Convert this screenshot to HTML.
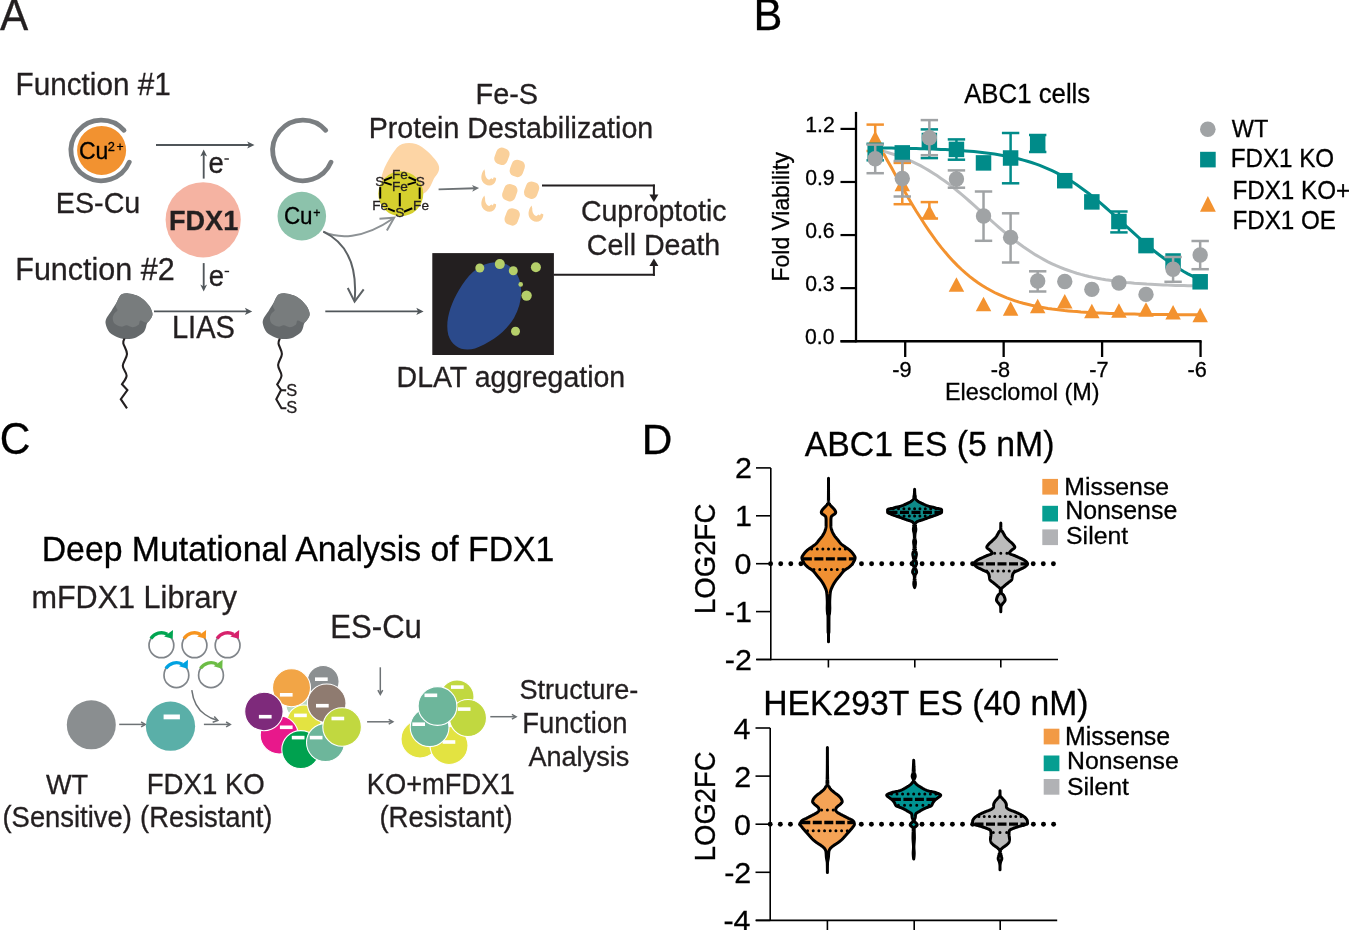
<!DOCTYPE html>
<html><head><meta charset="utf-8"><title>Figure</title>
<style>html,body{margin:0;padding:0;background:#fff;}svg{display:block;will-change:transform;}text{font-family:"Liberation Sans",sans-serif;}</style>
</head><body>
<svg width="1349" height="930" viewBox="0 0 1349 930">
<rect width="1349" height="930" fill="#fff"/>
<text transform="translate(-0.11,29.60) scale(1,1.05)" font-size="42.30" fill="#231f20" stroke="#231f20" stroke-width="0.3">A</text>
<text transform="translate(15.55,95.00) scale(1,1.05)" font-size="29.70" fill="#231f20" stroke="#231f20" stroke-width="0.3">Function #1</text>
<text transform="translate(15.28,280.00) scale(1,1.05)" font-size="30.50" fill="#231f20" stroke="#231f20" stroke-width="0.3">Function #2</text>
<path d="M124.03,130.29 A30.35,30.35 0 1 0 129.28,162.16" fill="none" stroke="#7a7e81" stroke-width="4.8" stroke-linecap="round"/>
<circle cx="101.60" cy="150.40" r="24.50" fill="#f29230" />
<text transform="translate(78.95,158.60) scale(1,1.05)" font-size="23.00" fill="#000" stroke="#000" stroke-width="0.3">Cu</text>
<text transform="translate(107.76,150.70) scale(1,1.05)" font-size="12.80" fill="#000" stroke="#000" stroke-width="0.3">2</text>
<text transform="translate(116.39,150.60) scale(1,1.05)" font-size="12.20" fill="#000" stroke="#000" stroke-width="0.3">+</text>
<text transform="translate(55.83,213.00) scale(1,1.05)" font-size="28.70" fill="#231f20" stroke="#231f20" stroke-width="0.3">ES-Cu</text>
<line x1="156.00" y1="145.00" x2="250.12" y2="145.00" stroke="#50565a" stroke-width="1.85" />
<path d="M254.50,145.00 L247.20,141.40 L249.00,145.00 L247.20,148.60 Z" fill="#50565a"/>
<path d="M325.73,130.29 A30.35,30.35 0 1 0 330.98,162.16" fill="none" stroke="#7a7e81" stroke-width="4.8" stroke-linecap="round"/>
<line x1="203.70" y1="178.60" x2="203.70" y2="153.70" stroke="#50565a" stroke-width="1.85" />
<path d="M203.70,149.50 L200.30,156.50 L203.70,154.70 L207.10,156.50 Z" fill="#50565a"/>
<text transform="translate(208.43,173.00) scale(1,1.05)" font-size="27.50" fill="#231f20" stroke="#231f20" stroke-width="0.3">e</text>
<rect x="224.4" y="158.3" width="4.5" height="1.4" fill="#231f20"/>
<circle cx="203.20" cy="219.80" r="37.60" fill="#f5b3a2" />
<text transform="translate(168.97,230.00) scale(1,1.05)" font-size="27.10" font-weight="bold" fill="#231f20" stroke="#231f20" stroke-width="0.3">FDX1</text>
<circle cx="301.80" cy="216.10" r="24.30" fill="#8cc2ab" />
<text transform="translate(283.88,223.80) scale(1,1.05)" font-size="22.40" fill="#000" stroke="#000" stroke-width="0.3">Cu</text>
<text transform="translate(313.28,216.50) scale(1,1.05)" font-size="12.40" fill="#000" stroke="#000" stroke-width="0.3">+</text>
<line x1="203.70" y1="263.10" x2="203.70" y2="287.40" stroke="#50565a" stroke-width="1.85" />
<path d="M203.70,291.60 L207.10,284.60 L203.70,286.40 L200.30,284.60 Z" fill="#50565a"/>
<text transform="translate(208.63,285.60) scale(1,1.05)" font-size="27.50" fill="#231f20" stroke="#231f20" stroke-width="0.3">e</text>
<rect x="224.6" y="270.8" width="4.5" height="1.4" fill="#231f20"/>
<path d="M122.30,294.00 C123.80,293.40 126.00,293.20 128.30,293.40 C130.60,293.60 133.58,294.20 136.10,295.20 C138.62,296.20 141.18,297.58 143.40,299.40 C145.62,301.22 147.90,303.78 149.40,306.10 C150.90,308.42 152.10,311.30 152.40,313.30 C152.70,315.30 152.10,316.40 151.20,318.10 C150.30,319.80 147.90,321.88 147.00,323.50 C146.10,325.12 146.40,326.28 145.80,327.80 C145.20,329.32 145.02,331.00 143.40,332.60 C141.78,334.20 138.82,336.35 136.10,337.40 C133.38,338.45 130.10,338.90 127.10,338.90 C124.10,338.90 121.02,338.45 118.10,337.40 C115.18,336.35 111.67,334.82 109.60,332.60 C107.53,330.38 106.20,326.52 105.70,324.10 C105.20,321.68 105.65,320.30 106.60,318.10 C107.55,315.90 109.78,313.40 111.40,310.90 C113.02,308.40 114.98,305.42 116.30,303.10 C117.62,300.78 118.30,298.52 119.30,297.00 C120.30,295.48 120.80,294.60 122.30,294.00 Z" fill="#65696b"/>
<path d="M115.70,305.50 C116.00,303.28 118.20,298.92 119.30,297.00 C120.40,295.08 120.80,294.60 122.30,294.00 C123.80,293.40 126.00,293.20 128.30,293.40 C130.60,293.60 133.58,294.20 136.10,295.20 C138.62,296.20 141.18,297.58 143.40,299.40 C145.62,301.22 147.90,303.78 149.40,306.10 C150.90,308.42 152.10,311.30 152.40,313.30 C152.70,315.30 152.10,316.52 151.20,318.10 C150.30,319.68 148.80,322.40 147.00,322.80 C145.20,323.20 141.80,320.18 140.40,320.50 C139.00,320.82 139.92,323.58 138.60,324.70 C137.28,325.82 134.52,327.10 132.50,327.20 C130.48,327.30 128.40,325.40 126.50,325.30 C124.60,325.20 123.10,326.90 121.10,326.60 C119.10,326.30 115.90,324.92 114.50,323.50 C113.10,322.08 112.70,319.80 112.70,318.10 C112.70,316.40 113.70,314.60 114.50,313.30 C115.30,312.00 117.30,311.60 117.50,310.30 C117.70,309.00 115.40,307.72 115.70,305.50 Z" fill="#787c7d"/>
<path d="M279.50,294.00 C281.00,293.40 283.20,293.20 285.50,293.40 C287.80,293.60 290.78,294.20 293.30,295.20 C295.82,296.20 298.38,297.58 300.60,299.40 C302.82,301.22 305.10,303.78 306.60,306.10 C308.10,308.42 309.30,311.30 309.60,313.30 C309.90,315.30 309.30,316.40 308.40,318.10 C307.50,319.80 305.10,321.88 304.20,323.50 C303.30,325.12 303.60,326.28 303.00,327.80 C302.40,329.32 302.22,331.00 300.60,332.60 C298.98,334.20 296.02,336.35 293.30,337.40 C290.58,338.45 287.30,338.90 284.30,338.90 C281.30,338.90 278.22,338.45 275.30,337.40 C272.38,336.35 268.87,334.82 266.80,332.60 C264.73,330.38 263.40,326.52 262.90,324.10 C262.40,321.68 262.85,320.30 263.80,318.10 C264.75,315.90 266.98,313.40 268.60,310.90 C270.22,308.40 272.18,305.42 273.50,303.10 C274.82,300.78 275.50,298.52 276.50,297.00 C277.50,295.48 278.00,294.60 279.50,294.00 Z" fill="#65696b"/>
<path d="M272.90,305.50 C273.20,303.28 275.40,298.92 276.50,297.00 C277.60,295.08 278.00,294.60 279.50,294.00 C281.00,293.40 283.20,293.20 285.50,293.40 C287.80,293.60 290.78,294.20 293.30,295.20 C295.82,296.20 298.38,297.58 300.60,299.40 C302.82,301.22 305.10,303.78 306.60,306.10 C308.10,308.42 309.30,311.30 309.60,313.30 C309.90,315.30 309.30,316.52 308.40,318.10 C307.50,319.68 306.00,322.40 304.20,322.80 C302.40,323.20 299.00,320.18 297.60,320.50 C296.20,320.82 297.12,323.58 295.80,324.70 C294.48,325.82 291.72,327.10 289.70,327.20 C287.68,327.30 285.60,325.40 283.70,325.30 C281.80,325.20 280.30,326.90 278.30,326.60 C276.30,326.30 273.10,324.92 271.70,323.50 C270.30,322.08 269.90,319.80 269.90,318.10 C269.90,316.40 270.90,314.60 271.70,313.30 C272.50,312.00 274.50,311.60 274.70,310.30 C274.90,309.00 272.60,307.72 272.90,305.50 Z" fill="#787c7d"/>
<path d="M124.50,338.60 C124.30,339.38 122.88,340.73 123.30,343.30 C123.72,345.87 127.08,350.27 127.00,354.00 C126.92,357.73 122.87,362.10 122.80,365.70 C122.73,369.30 126.73,372.50 126.60,375.60 C126.47,378.70 122.77,382.85 122.00,384.30 L127.4,390.1 L120.8,399.2 L127,408.3" fill="none" stroke="#231f20" stroke-width="2.1" stroke-linejoin="miter"/>
<path d="M279.80,338.60 C279.58,339.43 278.15,341.03 278.50,343.60 C278.85,346.17 281.97,350.42 281.90,354.00 C281.83,357.58 278.17,361.52 278.10,365.10 C278.03,368.68 281.65,372.27 281.50,375.50 C281.35,378.73 277.92,383.00 277.20,384.50 L281.1,390.1 L286.2,390.4 M281.1,390.1 L276.3,399.2 L281.5,408.2 L286.4,408.2" fill="none" stroke="#231f20" stroke-width="2.1" stroke-linejoin="miter"/>
<text transform="translate(286.36,396.20) scale(1,1.05)" font-size="16.40" fill="#231f20" stroke="#231f20" stroke-width="0.3">S</text>
<text transform="translate(286.36,412.70) scale(1,1.05)" font-size="16.40" fill="#231f20" stroke="#231f20" stroke-width="0.3">S</text>
<line x1="154.00" y1="311.40" x2="247.82" y2="311.40" stroke="#50565a" stroke-width="1.85" />
<path d="M252.20,311.40 L244.90,307.80 L246.70,311.40 L244.90,315.00 Z" fill="#50565a"/>
<text transform="translate(171.90,337.60) scale(1,1.05)" font-size="29.10" fill="#231f20" stroke="#231f20" stroke-width="0.3">LIAS</text>
<line x1="325.30" y1="311.40" x2="419.22" y2="311.40" stroke="#50565a" stroke-width="1.85" />
<path d="M423.60,311.40 L416.30,307.80 L418.10,311.40 L416.30,315.00 Z" fill="#50565a"/>
<path d="M323.3,231.7 C338,238.5 362,240 393.5,218.2" fill="none" stroke="#8d9295" stroke-width="2"/>
<path d="M379.47,218.65 L394.20,217.70 L386.88,230.53" fill="none" stroke="#8d9295" stroke-width="2" stroke-linejoin="miter"/>
<path d="M323.3,231.7 C345,242 358,262 354.6,301" fill="none" stroke="#5d6265" stroke-width="2"/>
<path d="M363.70,289.45 L354.60,301.70 L347.76,288.05" fill="none" stroke="#5d6265" stroke-width="2" stroke-linejoin="miter"/>
<text transform="translate(475.52,103.80) scale(1,1.05)" font-size="28.90" fill="#231f20" stroke="#231f20" stroke-width="0.3">Fe-S</text>
<text transform="translate(368.74,138.20) scale(1,1.05)" font-size="28.60" fill="#231f20" stroke="#231f20" stroke-width="0.3">Protein Destabilization</text>
<path d="M397,147.5 C401,143 409,142 416,144 C424,147 432,155 437,162 C441,168 439,172 435,177 C432,181 432,186 426,192 L404,205 L381,180 C382,170 390,156 397,147.5 Z" fill="#fdd5a5"/>
<circle cx="400.80" cy="193.80" r="22.50" fill="#d6d02e" />
<line x1="383.90" y1="180.50" x2="392.00" y2="177.10" stroke="#000" stroke-width="2" />
<line x1="408.50" y1="177.10" x2="416.00" y2="180.50" stroke="#000" stroke-width="2" />
<line x1="383.60" y1="182.10" x2="391.70" y2="184.90" stroke="#000" stroke-width="2" />
<line x1="407.60" y1="184.60" x2="416.00" y2="182.10" stroke="#000" stroke-width="2" />
<line x1="380.20" y1="187.10" x2="380.20" y2="198.60" stroke="#000" stroke-width="2" />
<line x1="419.70" y1="187.40" x2="419.70" y2="198.90" stroke="#000" stroke-width="2" />
<line x1="399.80" y1="193.00" x2="399.80" y2="206.40" stroke="#000" stroke-width="2" />
<line x1="388.00" y1="208.60" x2="394.80" y2="211.40" stroke="#000" stroke-width="2" />
<line x1="403.90" y1="211.70" x2="412.30" y2="208.30" stroke="#000" stroke-width="2" />
<text transform="translate(391.88,178.70) scale(1,1.0)" font-size="13.60" fill="#231f20" stroke="#231f20" stroke-width="0.3">Fe</text>
<text transform="translate(375.19,185.50) scale(1,1.0)" font-size="13.60" fill="#231f20" stroke="#231f20" stroke-width="0.3">S</text>
<text transform="translate(415.69,185.50) scale(1,1.0)" font-size="13.60" fill="#231f20" stroke="#231f20" stroke-width="0.3">S</text>
<text transform="translate(391.88,191.40) scale(1,1.0)" font-size="13.60" fill="#231f20" stroke="#231f20" stroke-width="0.3">Fe</text>
<text transform="translate(372.18,209.50) scale(1,1.0)" font-size="13.60" fill="#231f20" stroke="#231f20" stroke-width="0.3">Fe</text>
<text transform="translate(413.08,209.50) scale(1,1.0)" font-size="13.60" fill="#231f20" stroke="#231f20" stroke-width="0.3">Fe</text>
<text transform="translate(395.19,217.30) scale(1,1.0)" font-size="13.60" fill="#231f20" stroke="#231f20" stroke-width="0.3">S</text>
<line x1="438.60" y1="189.30" x2="474.90" y2="188.22" stroke="#6d7275" stroke-width="1.85" />
<path d="M479.10,188.10 L472.00,184.91 L473.90,188.25 L472.20,191.71 Z" fill="#6d7275"/>
<rect x="495.10" y="147.90" width="13.6" height="16.8" rx="5.2" ry="5.8" fill="#fad09a" transform="rotate(20 501.90 156.30)"/>
<rect x="510.50" y="160.00" width="13.6" height="16.8" rx="5.2" ry="5.8" fill="#fad09a" transform="rotate(20 517.30 168.40)"/>
<rect x="503.00" y="184.30" width="13.6" height="16.8" rx="5.2" ry="5.8" fill="#fad09a" transform="rotate(20 509.80 192.70)"/>
<rect x="524.80" y="181.80" width="13.6" height="16.8" rx="5.2" ry="5.8" fill="#fad09a" transform="rotate(20 531.60 190.20)"/>
<rect x="505.40" y="208.50" width="13.6" height="16.8" rx="5.2" ry="5.8" fill="#fad09a" transform="rotate(20 512.20 216.90)"/>
<path d="M484.40,169.20 C481.80,172.20 480.30,177.20 482.30,181.20 C484.30,185.20 489.80,186.70 493.30,184.20 C495.30,182.70 496.30,180.20 496.10,178.00 L493.80,177.20 L492.80,179.20 L491.30,178.20 L489.30,179.70 C486.80,179.20 484.80,176.20 485.10,172.20 Z" fill="#fad09a"/>
<path d="M484.40,195.50 C481.80,198.50 480.30,203.50 482.30,207.50 C484.30,211.50 489.80,213.00 493.30,210.50 C495.30,209.00 496.30,206.50 496.10,204.30 L493.80,203.50 L492.80,205.50 L491.30,204.50 L489.30,206.00 C486.80,205.50 484.80,202.50 485.10,198.50 Z" fill="#fad09a"/>
<path d="M531.60,205.50 C529.00,208.50 527.50,213.50 529.50,217.50 C531.50,221.50 537.00,223.00 540.50,220.50 C542.50,219.00 543.50,216.50 543.30,214.30 L541.00,213.50 L540.00,215.50 L538.50,214.50 L536.50,216.00 C534.00,215.50 532.00,212.50 532.30,208.50 Z" fill="#fad09a"/>
<line x1="542.00" y1="185.60" x2="654.90" y2="185.60" stroke="#231f20" stroke-width="2" />
<line x1="653.90" y1="184.60" x2="653.90" y2="195.00" stroke="#231f20" stroke-width="2" />
<path d="M649.4,194.5 L658.4,194.5 L653.9,202 Z" fill="#231f20"/>
<line x1="553.60" y1="274.80" x2="654.90" y2="274.80" stroke="#231f20" stroke-width="2" />
<line x1="653.90" y1="275.80" x2="653.90" y2="265.00" stroke="#231f20" stroke-width="2" />
<path d="M649.4,266 L658.4,266 L653.9,258.5 Z" fill="#231f20"/>
<text transform="translate(580.88,221.10) scale(1,1.05)" font-size="28.50" fill="#231f20" stroke="#231f20" stroke-width="0.3">Cuproptotic</text>
<text transform="translate(586.77,255.20) scale(1,1.05)" font-size="28.60" fill="#231f20" stroke="#231f20" stroke-width="0.3">Cell Death</text>
<rect x="432.3" y="253.1" width="121.6" height="101.9" fill="#231f20"/>
<path d="M489.7,263 C503,260 515,266 519.5,280 C523,292 521,305 514,318 C505,333 490,343 475,348.5 C463,352 452,347 448.3,335 C445,322 450,305 459,290 C467,276 478,265 489.7,263 Z" fill="#2b4a8b"/>
<circle cx="479.80" cy="268.00" r="4.50" fill="#b5cf6a" />
<circle cx="499.80" cy="264.10" r="5.00" fill="#b5cf6a" />
<circle cx="513.30" cy="270.80" r="4.50" fill="#b5cf6a" />
<circle cx="535.90" cy="267.30" r="5.00" fill="#b5cf6a" />
<circle cx="520.70" cy="284.40" r="2.30" fill="#b5cf6a" />
<circle cx="526.60" cy="295.60" r="5.20" fill="#b5cf6a" />
<circle cx="515.50" cy="331.20" r="4.50" fill="#b5cf6a" />
<text transform="translate(396.55,387.40) scale(1,1.05)" font-size="28.50" fill="#231f20" stroke="#231f20" stroke-width="0.3">DLAT aggregation</text>
<text transform="translate(753.44,29.70) scale(1,1.03)" font-size="43.20" fill="#000" stroke="#000" stroke-width="0.3">B</text>
<text transform="translate(964.14,103.00) scale(1,1.05)" font-size="25.80" fill="#000" stroke="#000" stroke-width="0.3">ABC1 cells</text>
<line x1="856.00" y1="111.90" x2="856.00" y2="342.40" stroke="#000" stroke-width="2.3" />
<line x1="840.50" y1="341.20" x2="1201.60" y2="341.20" stroke="#000" stroke-width="2.4" />
<line x1="840.50" y1="128.90" x2="856.00" y2="128.90" stroke="#000" stroke-width="2.2" />
<text transform="translate(805.29,131.90) scale(1,1.05)" font-size="21.20" fill="#000" stroke="#000" stroke-width="0.3">1.2</text>
<line x1="840.50" y1="181.98" x2="856.00" y2="181.98" stroke="#000" stroke-width="2.2" />
<text transform="translate(805.19,184.98) scale(1,1.05)" font-size="21.20" fill="#000" stroke="#000" stroke-width="0.3">0.9</text>
<line x1="840.50" y1="235.06" x2="856.00" y2="235.06" stroke="#000" stroke-width="2.2" />
<text transform="translate(805.13,238.06) scale(1,1.05)" font-size="21.20" fill="#000" stroke="#000" stroke-width="0.3">0.6</text>
<line x1="840.50" y1="288.14" x2="856.00" y2="288.14" stroke="#000" stroke-width="2.2" />
<text transform="translate(805.13,291.14) scale(1,1.05)" font-size="21.20" fill="#000" stroke="#000" stroke-width="0.3">0.3</text>
<line x1="840.50" y1="341.22" x2="856.00" y2="341.22" stroke="#000" stroke-width="2.2" />
<text transform="translate(805.03,344.22) scale(1,1.05)" font-size="21.20" fill="#000" stroke="#000" stroke-width="0.3">0.0</text>
<line x1="905.20" y1="341.20" x2="905.20" y2="357.00" stroke="#000" stroke-width="2.3" />
<text transform="translate(892.27,377.10) scale(1,1.05)" font-size="21.70" fill="#000" stroke="#000" stroke-width="0.3">-9</text>
<line x1="1003.65" y1="341.20" x2="1003.65" y2="357.00" stroke="#000" stroke-width="2.3" />
<text transform="translate(990.69,377.10) scale(1,1.05)" font-size="21.70" fill="#000" stroke="#000" stroke-width="0.3">-8</text>
<line x1="1102.10" y1="341.20" x2="1102.10" y2="357.00" stroke="#000" stroke-width="2.3" />
<text transform="translate(1089.22,377.10) scale(1,1.05)" font-size="21.70" fill="#000" stroke="#000" stroke-width="0.3">-7</text>
<line x1="1200.55" y1="341.20" x2="1200.55" y2="357.00" stroke="#000" stroke-width="2.3" />
<text transform="translate(1187.59,377.10) scale(1,1.05)" font-size="21.70" fill="#000" stroke="#000" stroke-width="0.3">-6</text>
<text transform="translate(944.97,400.10) scale(1,1.05)" font-size="23.40" fill="#000" stroke="#000" stroke-width="0.3">Elesclomol (M)</text>
<text transform="translate(789.00,279.50) rotate(-90) scale(1,1.05)" x="-1.89" y="0" font-size="22.89" fill="#000" stroke="#000" stroke-width="0.3">Fold Viability</text>
<polyline points="875.2,138.6 879.3,145.9 883.4,153.3 887.5,160.7 891.7,168.1 895.8,175.6 899.9,182.9 904.0,190.2 908.1,197.4 912.2,204.4 916.3,211.2 920.5,217.8 924.6,224.2 928.7,230.3 932.8,236.2 936.9,241.8 941.0,247.1 945.1,252.1 949.3,256.9 953.4,261.4 957.5,265.6 961.6,269.5 965.7,273.2 969.8,276.6 973.9,279.8 978.0,282.8 982.2,285.5 986.3,288.0 990.4,290.3 994.5,292.5 998.6,294.4 1002.7,296.2 1006.8,297.9 1011.0,299.4 1015.1,300.8 1019.2,302.1 1023.3,303.3 1027.4,304.3 1031.5,305.3 1035.6,306.2 1039.8,307.0 1043.9,307.7 1048.0,308.4 1052.1,309.0 1056.2,309.5 1060.3,310.0 1064.4,310.5 1068.6,310.9 1072.7,311.3 1076.8,311.6 1080.9,312.0 1085.0,312.2 1089.1,312.5 1093.2,312.7 1097.4,312.9 1101.5,313.1 1105.6,313.3 1109.7,313.5 1113.8,313.6 1117.9,313.7 1122.0,313.9 1126.1,314.0 1130.3,314.1 1134.4,314.1 1138.5,314.2 1142.6,314.3 1146.7,314.4 1150.8,314.4 1154.9,314.5 1159.1,314.5 1163.2,314.6 1167.3,314.6 1171.4,314.6 1175.5,314.7 1179.6,314.7 1183.7,314.7 1187.9,314.8 1192.0,314.8 1196.1,314.8 1200.2,314.8" fill="none" stroke="#f3922f" stroke-width="3"/>
<polyline points="875.2,149.2 879.3,150.2 883.4,151.2 887.5,152.4 891.7,153.7 895.8,155.0 899.9,156.5 904.0,158.1 908.1,159.8 912.2,161.6 916.3,163.6 920.5,165.7 924.6,168.0 928.7,170.4 932.8,172.9 936.9,175.6 941.0,178.4 945.1,181.3 949.3,184.4 953.4,187.6 957.5,191.0 961.6,194.4 965.7,197.9 969.8,201.5 973.9,205.1 978.0,208.8 982.2,212.5 986.3,216.2 990.4,219.8 994.5,223.5 998.6,227.1 1002.7,230.6 1006.8,234.1 1011.0,237.4 1015.1,240.7 1019.2,243.8 1023.3,246.8 1027.4,249.6 1031.5,252.3 1035.6,254.9 1039.8,257.3 1043.9,259.6 1048.0,261.8 1052.1,263.8 1056.2,265.7 1060.3,267.4 1064.4,269.0 1068.6,270.5 1072.7,271.9 1076.8,273.2 1080.9,274.4 1085.0,275.5 1089.1,276.5 1093.2,277.4 1097.4,278.2 1101.5,279.0 1105.6,279.7 1109.7,280.3 1113.8,280.9 1117.9,281.5 1122.0,281.9 1126.1,282.4 1130.3,282.8 1134.4,283.2 1138.5,283.5 1142.6,283.8 1146.7,284.1 1150.8,284.3 1154.9,284.5 1159.1,284.7 1163.2,284.9 1167.3,285.1 1171.4,285.2 1175.5,285.4 1179.6,285.5 1183.7,285.6 1187.9,285.7 1192.0,285.8 1196.1,285.9 1200.2,286.0" fill="none" stroke="#bcbec0" stroke-width="3"/>
<polyline points="875.2,147.9 879.3,147.9 883.4,148.0 887.5,148.0 891.7,148.1 895.8,148.2 899.9,148.2 904.0,148.3 908.1,148.4 912.2,148.5 916.3,148.6 920.5,148.7 924.6,148.8 928.7,148.9 932.8,149.1 936.9,149.2 941.0,149.4 945.1,149.6 949.3,149.8 953.4,150.0 957.5,150.3 961.6,150.6 965.7,150.9 969.8,151.2 973.9,151.6 978.0,152.0 982.2,152.5 986.3,152.9 990.4,153.5 994.5,154.1 998.6,154.7 1002.7,155.4 1006.8,156.2 1011.0,157.1 1015.1,158.0 1019.2,159.0 1023.3,160.1 1027.4,161.3 1031.5,162.5 1035.6,163.9 1039.8,165.4 1043.9,167.1 1048.0,168.8 1052.1,170.7 1056.2,172.7 1060.3,174.8 1064.4,177.1 1068.6,179.6 1072.7,182.1 1076.8,184.8 1080.9,187.7 1085.0,190.7 1089.1,193.8 1093.2,197.1 1097.4,200.4 1101.5,203.9 1105.6,207.5 1109.7,211.1 1113.8,214.8 1117.9,218.6 1122.0,222.4 1126.1,226.2 1130.3,229.9 1134.4,233.7 1138.5,237.4 1142.6,241.0 1146.7,244.6 1150.8,248.1 1154.9,251.5 1159.1,254.7 1163.2,257.8 1167.3,260.9 1171.4,263.7 1175.5,266.4 1179.6,269.0 1183.7,271.5 1187.9,273.8 1192.0,275.9 1196.1,277.9 1200.2,279.8" fill="none" stroke="#008b89" stroke-width="3"/>
<line x1="875.20" y1="124.60" x2="875.20" y2="151.00" stroke="#f3922f" stroke-width="2.5" />
<line x1="866.50" y1="124.60" x2="883.90" y2="124.60" stroke="#f3922f" stroke-width="2.5" />
<line x1="866.50" y1="151.00" x2="883.90" y2="151.00" stroke="#f3922f" stroke-width="2.5" />
<line x1="902.28" y1="162.90" x2="902.28" y2="204.20" stroke="#f3922f" stroke-width="2.5" />
<line x1="893.58" y1="162.90" x2="910.98" y2="162.90" stroke="#f3922f" stroke-width="2.5" />
<line x1="893.58" y1="204.20" x2="910.98" y2="204.20" stroke="#f3922f" stroke-width="2.5" />
<line x1="929.36" y1="202.10" x2="929.36" y2="218.50" stroke="#f3922f" stroke-width="2.5" />
<line x1="920.66" y1="202.10" x2="938.06" y2="202.10" stroke="#f3922f" stroke-width="2.5" />
<line x1="920.66" y1="218.50" x2="938.06" y2="218.50" stroke="#f3922f" stroke-width="2.5" />
<path d="M875.20,130.75 L882.95,145.25 L867.45,145.25 Z" fill="#f3922f"/>
<path d="M902.28,176.75 L910.03,191.25 L894.53,191.25 Z" fill="#f3922f"/>
<path d="M929.36,204.75 L937.11,219.25 L921.61,219.25 Z" fill="#f3922f"/>
<path d="M956.44,277.25 L964.19,291.75 L948.69,291.75 Z" fill="#f3922f"/>
<path d="M983.52,296.75 L991.27,311.25 L975.77,311.25 Z" fill="#f3922f"/>
<path d="M1010.60,301.25 L1018.35,315.75 L1002.85,315.75 Z" fill="#f3922f"/>
<path d="M1037.68,298.65 L1045.43,313.15 L1029.93,313.15 Z" fill="#f3922f"/>
<path d="M1064.76,294.05 L1072.51,308.55 L1057.01,308.55 Z" fill="#f3922f"/>
<path d="M1091.84,303.85 L1099.59,318.35 L1084.09,318.35 Z" fill="#f3922f"/>
<path d="M1118.92,303.15 L1126.67,317.65 L1111.17,317.65 Z" fill="#f3922f"/>
<path d="M1146.00,302.35 L1153.75,316.85 L1138.25,316.85 Z" fill="#f3922f"/>
<path d="M1173.08,305.05 L1180.83,319.55 L1165.33,319.55 Z" fill="#f3922f"/>
<path d="M1200.16,307.65 L1207.91,322.15 L1192.41,322.15 Z" fill="#f3922f"/>
<line x1="875.20" y1="143.80" x2="875.20" y2="160.30" stroke="#008b89" stroke-width="2.5" />
<line x1="866.50" y1="143.80" x2="883.90" y2="143.80" stroke="#008b89" stroke-width="2.5" />
<line x1="866.50" y1="160.30" x2="883.90" y2="160.30" stroke="#008b89" stroke-width="2.5" />
<line x1="929.36" y1="129.40" x2="929.36" y2="158.10" stroke="#008b89" stroke-width="2.5" />
<line x1="920.66" y1="129.40" x2="938.06" y2="129.40" stroke="#008b89" stroke-width="2.5" />
<line x1="920.66" y1="158.10" x2="938.06" y2="158.10" stroke="#008b89" stroke-width="2.5" />
<line x1="956.44" y1="139.40" x2="956.44" y2="159.70" stroke="#008b89" stroke-width="2.5" />
<line x1="947.74" y1="139.40" x2="965.14" y2="139.40" stroke="#008b89" stroke-width="2.5" />
<line x1="947.74" y1="159.70" x2="965.14" y2="159.70" stroke="#008b89" stroke-width="2.5" />
<line x1="1010.60" y1="133.00" x2="1010.60" y2="183.30" stroke="#008b89" stroke-width="2.5" />
<line x1="1001.90" y1="133.00" x2="1019.30" y2="133.00" stroke="#008b89" stroke-width="2.5" />
<line x1="1001.90" y1="183.30" x2="1019.30" y2="183.30" stroke="#008b89" stroke-width="2.5" />
<line x1="1037.68" y1="135.00" x2="1037.68" y2="152.00" stroke="#008b89" stroke-width="2.5" />
<line x1="1028.98" y1="135.00" x2="1046.38" y2="135.00" stroke="#008b89" stroke-width="2.5" />
<line x1="1028.98" y1="152.00" x2="1046.38" y2="152.00" stroke="#008b89" stroke-width="2.5" />
<line x1="1118.92" y1="211.50" x2="1118.92" y2="232.40" stroke="#008b89" stroke-width="2.5" />
<line x1="1110.22" y1="211.50" x2="1127.62" y2="211.50" stroke="#008b89" stroke-width="2.5" />
<line x1="1110.22" y1="232.40" x2="1127.62" y2="232.40" stroke="#008b89" stroke-width="2.5" />
<rect x="867.45" y="144.25" width="15.5" height="15.5" fill="#008b89"/>
<rect x="894.53" y="145.15" width="15.5" height="15.5" fill="#008b89"/>
<rect x="921.61" y="132.75" width="15.5" height="15.5" fill="#008b89"/>
<rect x="948.69" y="141.65" width="15.5" height="15.5" fill="#008b89"/>
<rect x="975.77" y="155.15" width="15.5" height="15.5" fill="#008b89"/>
<rect x="1002.85" y="150.25" width="15.5" height="15.5" fill="#008b89"/>
<rect x="1029.93" y="135.75" width="15.5" height="15.5" fill="#008b89"/>
<rect x="1057.01" y="172.95" width="15.5" height="15.5" fill="#008b89"/>
<rect x="1084.09" y="194.15" width="15.5" height="15.5" fill="#008b89"/>
<rect x="1111.17" y="213.75" width="15.5" height="15.5" fill="#008b89"/>
<rect x="1138.25" y="237.85" width="15.5" height="15.5" fill="#008b89"/>
<rect x="1165.33" y="253.25" width="15.5" height="15.5" fill="#008b89"/>
<rect x="1192.41" y="274.05" width="15.5" height="15.5" fill="#008b89"/>
<line x1="875.20" y1="144.60" x2="875.20" y2="173.20" stroke="#a0a3a5" stroke-width="2.5" />
<line x1="866.50" y1="144.60" x2="883.90" y2="144.60" stroke="#a0a3a5" stroke-width="2.5" />
<line x1="866.50" y1="173.20" x2="883.90" y2="173.20" stroke="#a0a3a5" stroke-width="2.5" />
<line x1="902.28" y1="161.00" x2="902.28" y2="196.50" stroke="#a0a3a5" stroke-width="2.5" />
<line x1="893.58" y1="161.00" x2="910.98" y2="161.00" stroke="#a0a3a5" stroke-width="2.5" />
<line x1="893.58" y1="196.50" x2="910.98" y2="196.50" stroke="#a0a3a5" stroke-width="2.5" />
<line x1="929.36" y1="120.10" x2="929.36" y2="155.20" stroke="#a0a3a5" stroke-width="2.5" />
<line x1="920.66" y1="120.10" x2="938.06" y2="120.10" stroke="#a0a3a5" stroke-width="2.5" />
<line x1="920.66" y1="155.20" x2="938.06" y2="155.20" stroke="#a0a3a5" stroke-width="2.5" />
<line x1="956.44" y1="170.40" x2="956.44" y2="187.70" stroke="#a0a3a5" stroke-width="2.5" />
<line x1="947.74" y1="170.40" x2="965.14" y2="170.40" stroke="#a0a3a5" stroke-width="2.5" />
<line x1="947.74" y1="187.70" x2="965.14" y2="187.70" stroke="#a0a3a5" stroke-width="2.5" />
<line x1="983.52" y1="191.50" x2="983.52" y2="240.80" stroke="#a0a3a5" stroke-width="2.5" />
<line x1="974.82" y1="191.50" x2="992.22" y2="191.50" stroke="#a0a3a5" stroke-width="2.5" />
<line x1="974.82" y1="240.80" x2="992.22" y2="240.80" stroke="#a0a3a5" stroke-width="2.5" />
<line x1="1010.60" y1="213.30" x2="1010.60" y2="262.50" stroke="#a0a3a5" stroke-width="2.5" />
<line x1="1001.90" y1="213.30" x2="1019.30" y2="213.30" stroke="#a0a3a5" stroke-width="2.5" />
<line x1="1001.90" y1="262.50" x2="1019.30" y2="262.50" stroke="#a0a3a5" stroke-width="2.5" />
<line x1="1037.68" y1="271.30" x2="1037.68" y2="291.50" stroke="#a0a3a5" stroke-width="2.5" />
<line x1="1028.98" y1="271.30" x2="1046.38" y2="271.30" stroke="#a0a3a5" stroke-width="2.5" />
<line x1="1028.98" y1="291.50" x2="1046.38" y2="291.50" stroke="#a0a3a5" stroke-width="2.5" />
<line x1="1173.08" y1="257.00" x2="1173.08" y2="281.80" stroke="#a0a3a5" stroke-width="2.5" />
<line x1="1164.38" y1="257.00" x2="1181.78" y2="257.00" stroke="#a0a3a5" stroke-width="2.5" />
<line x1="1164.38" y1="281.80" x2="1181.78" y2="281.80" stroke="#a0a3a5" stroke-width="2.5" />
<line x1="1200.16" y1="241.00" x2="1200.16" y2="269.20" stroke="#a0a3a5" stroke-width="2.5" />
<line x1="1191.46" y1="241.00" x2="1208.86" y2="241.00" stroke="#a0a3a5" stroke-width="2.5" />
<line x1="1191.46" y1="269.20" x2="1208.86" y2="269.20" stroke="#a0a3a5" stroke-width="2.5" />
<circle cx="875.20" cy="158.70" r="7.70" fill="#a0a3a5" />
<circle cx="902.28" cy="178.50" r="7.70" fill="#a0a3a5" />
<circle cx="929.36" cy="137.70" r="7.70" fill="#a0a3a5" />
<circle cx="956.44" cy="179.00" r="7.70" fill="#a0a3a5" />
<circle cx="983.52" cy="216.00" r="7.70" fill="#a0a3a5" />
<circle cx="1010.60" cy="237.40" r="7.70" fill="#a0a3a5" />
<circle cx="1037.68" cy="281.00" r="7.70" fill="#a0a3a5" />
<circle cx="1064.76" cy="281.50" r="7.70" fill="#a0a3a5" />
<circle cx="1091.84" cy="289.40" r="7.70" fill="#a0a3a5" />
<circle cx="1118.92" cy="283.00" r="7.70" fill="#a0a3a5" />
<circle cx="1146.00" cy="294.40" r="7.70" fill="#a0a3a5" />
<circle cx="1173.08" cy="269.20" r="7.70" fill="#a0a3a5" />
<circle cx="1200.16" cy="255.00" r="7.70" fill="#a0a3a5" />
<circle cx="1207.80" cy="129.30" r="7.80" fill="#a0a3a5" />
<rect x="1200.10" y="151.80" width="15.6" height="15.6" fill="#008b89"/>
<path d="M1207.90,195.90 L1215.80,211.70 L1200.00,211.70 Z" fill="#f3922f"/>
<text transform="translate(1231.78,136.90) scale(1,1.05)" font-size="23.50" fill="#000" stroke="#000" stroke-width="0.3">WT</text>
<text transform="translate(1230.70,166.70) scale(1,1.05)" font-size="24.20" fill="#000" stroke="#000" stroke-width="0.3">FDX1 KO</text>
<text transform="translate(1232.50,199.00) scale(1,1.05)" font-size="24.20" fill="#000" stroke="#000" stroke-width="0.3">FDX1 KO+</text>
<text transform="translate(1232.50,228.70) scale(1,1.05)" font-size="24.20" fill="#000" stroke="#000" stroke-width="0.3">FDX1 OE</text>
<text transform="translate(-0.23,454.40) scale(1,1.05)" font-size="42.50" fill="#000" stroke="#000" stroke-width="0.3">C</text>
<text transform="translate(41.71,560.80) scale(1,1.05)" font-size="33.80" fill="#000" stroke="#000" stroke-width="0.3">Deep Mutational Analysis of FDX1</text>
<text transform="translate(31.43,607.70) scale(1,1.05)" font-size="30.60" fill="#231f20" stroke="#231f20" stroke-width="0.3">mFDX1 Library</text>
<text transform="translate(330.33,638.20) scale(1,1.05)" font-size="31.10" fill="#231f20" stroke="#231f20" stroke-width="0.3">ES-Cu</text>
<circle cx="91.30" cy="724.80" r="24.50" fill="#8a8e90" />
<line x1="119.20" y1="724.40" x2="144.70" y2="724.40" stroke="#6d7275" stroke-width="1.5" />
<path d="M141.10,722.00 L145.30,724.40 L141.10,726.80" fill="none" stroke="#6d7275" stroke-width="1.5" stroke-linejoin="miter"/>
<circle cx="170.50" cy="726.20" r="24.60" fill="#5aafa8" />
<rect x="163.6" y="714.5" width="16.3" height="4.8" fill="#fff"/>
<line x1="203.90" y1="724.40" x2="229.70" y2="724.40" stroke="#6d7275" stroke-width="1.5" />
<path d="M226.10,722.00 L230.30,724.40 L226.10,726.80" fill="none" stroke="#6d7275" stroke-width="1.5" stroke-linejoin="miter"/>
<path d="M191.8,690.1 C193,700 197,709 205,714.5 C209,717.5 213,719.3 217.3,720.3" fill="none" stroke="#6d7275" stroke-width="1.5"/>
<path d="M214.23,716.44 L217.80,720.50 L212.68,722.23" fill="none" stroke="#6d7275" stroke-width="1.5" stroke-linejoin="miter"/>
<circle cx="161.4" cy="645.3" r="12.4" fill="none" stroke="#80858a" stroke-width="1.7"/>
<path d="M150.92,638.49 A12.5,12.5 0 0 1 167.27,634.26" fill="none" stroke="#00a551" stroke-width="3.3"/>
<path d="M164.10,636.40 L173.00,629.90 L172.70,638.80 Z" fill="#00a551"/>
<circle cx="194.5" cy="645.3" r="12.4" fill="none" stroke="#80858a" stroke-width="1.7"/>
<path d="M184.02,638.49 A12.5,12.5 0 0 1 200.37,634.26" fill="none" stroke="#f7941e" stroke-width="3.3"/>
<path d="M197.20,636.40 L206.10,629.90 L205.80,638.80 Z" fill="#f7941e"/>
<circle cx="227.6" cy="645.3" r="12.4" fill="none" stroke="#80858a" stroke-width="1.7"/>
<path d="M217.12,638.49 A12.5,12.5 0 0 1 233.47,634.26" fill="none" stroke="#d7226c" stroke-width="3.3"/>
<path d="M230.30,636.40 L239.20,629.90 L238.90,638.80 Z" fill="#d7226c"/>
<circle cx="176.4" cy="675.2" r="12.4" fill="none" stroke="#80858a" stroke-width="1.7"/>
<path d="M165.92,668.39 A12.5,12.5 0 0 1 182.27,664.16" fill="none" stroke="#00a2e1" stroke-width="3.3"/>
<path d="M179.10,666.30 L188.00,659.80 L187.70,668.70 Z" fill="#00a2e1"/>
<circle cx="211" cy="675.2" r="12.4" fill="none" stroke="#80858a" stroke-width="1.7"/>
<path d="M200.52,668.39 A12.5,12.5 0 0 1 216.87,664.16" fill="none" stroke="#6cbd45" stroke-width="3.3"/>
<path d="M213.70,666.30 L222.60,659.80 L222.30,668.70 Z" fill="#6cbd45"/>
<circle cx="300" cy="705" r="14" fill="#b8d8bf" stroke="#fff" stroke-width="1.1"/>
<circle cx="323.1" cy="681.5" r="16" fill="#8b8f91" stroke="#fff" stroke-width="1.1"/>
<rect x="315" y="677.4" width="12.7" height="3.6" fill="#fff"/>
<circle cx="291.5" cy="687.7" r="19" fill="#f2a546" stroke="#fff" stroke-width="1.1"/>
<rect x="279.9" y="693" width="12.7" height="3.6" fill="#fff"/>
<circle cx="304" cy="722" r="17" fill="#e3e341" stroke="#fff" stroke-width="1.1"/>
<rect x="294.1" y="713.6" width="12.7" height="3.6" fill="#fff"/>
<circle cx="326.7" cy="703.3" r="19.3" fill="#8f7b70" stroke="#fff" stroke-width="1.1"/>
<rect x="316" y="703.9" width="12.7" height="3.6" fill="#fff"/>
<circle cx="279.2" cy="735" r="19" fill="#e8188b" stroke="#fff" stroke-width="1.1"/>
<rect x="279.9" y="725.5" width="12.7" height="3.6" fill="#fff"/>
<circle cx="263.9" cy="711.5" r="19.2" fill="#7e2a7b" stroke="#fff" stroke-width="1.1"/>
<rect x="258.9" y="714.9" width="12.7" height="3.6" fill="#fff"/>
<circle cx="300.8" cy="749.6" r="19" fill="#00a14f" stroke="#fff" stroke-width="1.1"/>
<rect x="291.8" y="735.8" width="12.7" height="3.6" fill="#fff"/>
<circle cx="325.5" cy="742.6" r="19" fill="#6db69b" stroke="#fff" stroke-width="1.1"/>
<rect x="309.8" y="735.8" width="12.7" height="3.6" fill="#fff"/>
<circle cx="342.1" cy="727" r="19.3" fill="#c1d840" stroke="#fff" stroke-width="1.1"/>
<rect x="331.5" y="716.7" width="12.7" height="3.6" fill="#fff"/>
<line x1="380.30" y1="667.30" x2="380.30" y2="693.80" stroke="#6d7275" stroke-width="1.5" />
<path d="M382.70,690.20 L380.30,694.40 L377.90,690.20" fill="none" stroke="#6d7275" stroke-width="1.5" stroke-linejoin="miter"/>
<line x1="367.10" y1="721.80" x2="392.30" y2="721.80" stroke="#6d7275" stroke-width="1.5" />
<path d="M388.70,719.40 L392.90,721.80 L388.70,724.20" fill="none" stroke="#6d7275" stroke-width="1.5" stroke-linejoin="miter"/>
<circle cx="457" cy="697" r="17" fill="#c1d840" stroke="#fff" stroke-width="1.1"/>
<rect x="451" y="685.3" width="12.7" height="3.6" fill="#fff"/>
<circle cx="420" cy="739" r="19" fill="#e3e341" stroke="#fff" stroke-width="1.1"/>
<circle cx="449" cy="745.5" r="19" fill="#e3e341" stroke="#fff" stroke-width="1.1"/>
<rect x="442.6" y="740.2" width="12.7" height="3.6" fill="#fff"/>
<circle cx="429.6" cy="727.2" r="19.4" fill="#6db69b" stroke="#fff" stroke-width="1.1"/>
<rect x="412.3" y="722.4" width="12.7" height="3.6" fill="#fff"/>
<circle cx="468" cy="718" r="18.5" fill="#c1d840" stroke="#fff" stroke-width="1.1"/>
<rect x="457.8" y="707.3" width="12.7" height="3.6" fill="#fff"/>
<circle cx="437.5" cy="706" r="19.4" fill="#6db69b" stroke="#fff" stroke-width="1.1"/>
<rect x="424.5" y="693.5" width="12.7" height="3.6" fill="#fff"/>
<line x1="490.30" y1="716.70" x2="515.50" y2="716.70" stroke="#6d7275" stroke-width="1.5" />
<path d="M511.90,714.30 L516.10,716.70 L511.90,719.10" fill="none" stroke="#6d7275" stroke-width="1.5" stroke-linejoin="miter"/>
<text transform="translate(519.48,699.30) scale(1,1.05)" font-size="27.10" fill="#231f20" stroke="#231f20" stroke-width="0.3">Structure-</text>
<text transform="translate(522.34,732.90) scale(1,1.05)" font-size="27.40" fill="#231f20" stroke="#231f20" stroke-width="0.3">Function</text>
<text transform="translate(528.43,766.40) scale(1,1.05)" font-size="27.10" fill="#231f20" stroke="#231f20" stroke-width="0.3">Analysis</text>
<text transform="translate(45.96,793.60) scale(1,1.05)" font-size="27.20" fill="#231f20" stroke="#231f20" stroke-width="0.3">WT</text>
<text transform="translate(2.49,827.20) scale(1,1.05)" font-size="27.40" fill="#231f20" stroke="#231f20" stroke-width="0.3">(Sensitive)</text>
<text transform="translate(146.72,793.60) scale(1,1.05)" font-size="27.60" fill="#231f20" stroke="#231f20" stroke-width="0.3">FDX1 KO</text>
<text transform="translate(140.09,827.20) scale(1,1.05)" font-size="27.40" fill="#231f20" stroke="#231f20" stroke-width="0.3">(Resistant)</text>
<text transform="translate(366.75,793.50) scale(1,1.05)" font-size="27.30" fill="#231f20" stroke="#231f20" stroke-width="0.3">KO+mFDX1</text>
<text transform="translate(379.38,827.00) scale(1,1.05)" font-size="27.60" fill="#231f20" stroke="#231f20" stroke-width="0.3">(Resistant)</text>
<text transform="translate(641.70,453.70) scale(1,1.02)" font-size="42.40" fill="#000" stroke="#000" stroke-width="0.3">D</text>
<text transform="translate(804.72,456.20) scale(1,1.05)" font-size="33.80" fill="#000" stroke="#000" stroke-width="0.3">ABC1 ES (5 nM)</text>
<text transform="translate(763.22,714.50) scale(1,1.05)" font-size="33.70" fill="#000" stroke="#000" stroke-width="0.3">HEK293T ES (40 nM)</text>
<line x1="770.80" y1="467.90" x2="770.80" y2="660.30" stroke="#000" stroke-width="1.6" />
<line x1="756.50" y1="659.50" x2="1058.00" y2="659.50" stroke="#000" stroke-width="1.6" />
<line x1="756.00" y1="467.90" x2="770.80" y2="467.90" stroke="#000" stroke-width="1.6" />
<text transform="translate(735.00,477.90) scale(1,0.955)" font-size="30.50" fill="#000" stroke="#000" stroke-width="0.3">2</text>
<line x1="756.00" y1="515.80" x2="770.80" y2="515.80" stroke="#000" stroke-width="1.6" />
<text transform="translate(734.92,525.80) scale(1,0.955)" font-size="30.50" fill="#000" stroke="#000" stroke-width="0.3">1</text>
<line x1="756.00" y1="563.70" x2="770.80" y2="563.70" stroke="#000" stroke-width="1.6" />
<text transform="translate(734.62,573.70) scale(1,0.955)" font-size="30.50" fill="#000" stroke="#000" stroke-width="0.3">0</text>
<line x1="756.00" y1="611.60" x2="770.80" y2="611.60" stroke="#000" stroke-width="1.6" />
<text transform="translate(724.78,621.60) scale(1,0.955)" font-size="30.50" fill="#000" stroke="#000" stroke-width="0.3">-1</text>
<line x1="756.00" y1="659.50" x2="770.80" y2="659.50" stroke="#000" stroke-width="1.6" />
<text transform="translate(724.86,669.50) scale(1,0.955)" font-size="30.50" fill="#000" stroke="#000" stroke-width="0.3">-2</text>
<line x1="828.40" y1="659.50" x2="828.40" y2="667.50" stroke="#000" stroke-width="1.6" />
<line x1="914.80" y1="659.50" x2="914.80" y2="667.50" stroke="#000" stroke-width="1.6" />
<line x1="1000.80" y1="659.50" x2="1000.80" y2="667.50" stroke="#000" stroke-width="1.6" />
<text transform="translate(715.20,611.70) rotate(-90) scale(1,1.05)" x="-2.28" y="0" font-size="27.58" fill="#000" stroke="#000" stroke-width="0.3">LOG2FC</text>
<circle cx="770.60" cy="563.70" r="2.45" fill="#000" />
<circle cx="780.70" cy="563.70" r="2.45" fill="#000" />
<circle cx="790.80" cy="563.70" r="2.45" fill="#000" />
<circle cx="800.90" cy="563.70" r="2.45" fill="#000" />
<circle cx="811.00" cy="563.70" r="2.45" fill="#000" />
<circle cx="821.10" cy="563.70" r="2.45" fill="#000" />
<circle cx="831.20" cy="563.70" r="2.45" fill="#000" />
<circle cx="841.30" cy="563.70" r="2.45" fill="#000" />
<circle cx="851.40" cy="563.70" r="2.45" fill="#000" />
<circle cx="861.50" cy="563.70" r="2.45" fill="#000" />
<circle cx="871.60" cy="563.70" r="2.45" fill="#000" />
<circle cx="881.70" cy="563.70" r="2.45" fill="#000" />
<circle cx="891.80" cy="563.70" r="2.45" fill="#000" />
<circle cx="901.90" cy="563.70" r="2.45" fill="#000" />
<circle cx="912.00" cy="563.70" r="2.45" fill="#000" />
<circle cx="922.10" cy="563.70" r="2.45" fill="#000" />
<circle cx="932.20" cy="563.70" r="2.45" fill="#000" />
<circle cx="942.30" cy="563.70" r="2.45" fill="#000" />
<circle cx="952.40" cy="563.70" r="2.45" fill="#000" />
<circle cx="962.50" cy="563.70" r="2.45" fill="#000" />
<circle cx="972.60" cy="563.70" r="2.45" fill="#000" />
<circle cx="982.70" cy="563.70" r="2.45" fill="#000" />
<circle cx="992.80" cy="563.70" r="2.45" fill="#000" />
<circle cx="1002.90" cy="563.70" r="2.45" fill="#000" />
<circle cx="1013.00" cy="563.70" r="2.45" fill="#000" />
<circle cx="1023.10" cy="563.70" r="2.45" fill="#000" />
<circle cx="1033.20" cy="563.70" r="2.45" fill="#000" />
<circle cx="1043.30" cy="563.70" r="2.45" fill="#000" />
<circle cx="1053.40" cy="563.70" r="2.45" fill="#000" />
<path d="M828.50,478.20 L828.50,478.60 L828.50,479.00 L828.50,479.40 L828.50,479.80 L828.50,480.20 L828.50,480.60 L828.50,481.00 L828.50,481.40 L828.50,481.80 L828.50,482.20 L828.50,482.60 L828.50,483.00 L828.50,483.40 L828.50,483.80 L828.50,484.20 L828.51,484.60 L828.51,485.00 L828.51,485.40 L828.51,485.80 L828.51,486.20 L828.51,486.60 L828.51,487.00 L828.51,487.40 L828.51,487.80 L828.51,488.20 L828.52,488.60 L828.52,489.00 L828.52,489.40 L828.52,489.80 L828.52,490.20 L828.52,490.60 L828.53,491.00 L828.53,491.40 L828.53,491.80 L828.53,492.20 L828.54,492.60 L828.54,493.00 L828.54,493.40 L828.54,493.80 L828.55,494.20 L828.55,494.60 L828.55,495.00 L828.55,495.40 L828.56,495.80 L828.56,496.20 L828.57,496.60 L828.57,497.00 L828.57,497.40 L828.58,497.80 L828.58,498.20 L828.58,498.60 L828.59,499.00 L828.59,499.40 L828.60,499.80 L828.60,500.20 L828.63,500.60 L828.67,501.00 L828.72,501.40 L828.78,501.80 L828.85,502.20 L828.92,502.60 L829.03,503.00 L829.19,503.40 L829.39,503.80 L829.63,504.20 L829.91,504.60 L830.21,505.00 L830.55,505.40 L830.90,505.80 L831.27,506.20 L831.65,506.60 L832.04,507.00 L832.43,507.40 L832.82,507.80 L833.20,508.20 L833.57,508.60 L833.93,509.00 L834.26,509.40 L834.58,509.80 L834.86,510.20 L835.11,510.60 L835.32,511.00 L835.49,511.40 L835.61,511.80 L835.68,512.20 L835.69,512.60 L835.55,513.00 L835.26,513.40 L834.84,513.80 L834.33,514.20 L833.76,514.60 L833.18,515.00 L832.62,515.40 L832.10,515.80 L831.67,516.20 L831.36,516.60 L831.20,517.00 L831.13,517.40 L831.07,517.80 L831.02,518.20 L830.97,518.60 L830.94,519.00 L830.91,519.40 L830.90,519.80 L830.90,520.20 L830.90,520.60 L830.90,521.00 L830.90,521.40 L830.90,521.80 L830.90,522.20 L830.90,522.60 L830.90,523.00 L830.90,523.40 L830.90,523.80 L830.90,524.20 L830.90,524.60 L830.90,525.00 L830.90,525.40 L830.90,525.80 L830.90,526.20 L830.93,526.60 L830.97,527.00 L831.04,527.40 L831.12,527.80 L831.21,528.20 L831.31,528.60 L831.42,529.00 L831.53,529.40 L831.64,529.80 L831.76,530.20 L831.88,530.60 L832.02,531.00 L832.18,531.40 L832.34,531.80 L832.52,532.20 L832.71,532.60 L832.91,533.00 L833.11,533.40 L833.33,533.80 L833.55,534.20 L833.77,534.60 L834.00,535.00 L834.24,535.40 L834.50,535.80 L834.79,536.20 L835.08,536.60 L835.39,537.00 L835.71,537.40 L836.04,537.80 L836.38,538.20 L836.72,538.60 L837.06,539.00 L837.39,539.40 L837.73,539.80 L838.06,540.20 L838.38,540.60 L838.69,541.00 L838.99,541.40 L839.28,541.80 L839.59,542.20 L839.91,542.60 L840.24,543.00 L840.61,543.40 L841.00,543.80 L841.45,544.20 L841.93,544.60 L842.45,545.00 L842.99,545.40 L843.55,545.80 L844.12,546.20 L844.69,546.60 L845.25,547.00 L845.80,547.40 L846.36,547.80 L846.94,548.20 L847.52,548.60 L848.11,549.00 L848.67,549.40 L849.20,549.80 L849.69,550.20 L850.13,550.60 L850.55,551.00 L850.96,551.40 L851.35,551.80 L851.72,552.20 L852.08,552.60 L852.42,553.00 L852.73,553.40 L853.03,553.80 L853.30,554.20 L853.57,554.60 L853.85,555.00 L854.13,555.40 L854.39,555.80 L854.63,556.20 L854.83,556.60 L854.99,557.00 L855.08,557.40 L855.10,557.80 L855.07,558.20 L855.01,558.60 L854.91,559.00 L854.79,559.40 L854.64,559.80 L854.47,560.20 L854.29,560.60 L854.09,561.00 L853.89,561.40 L853.67,561.80 L853.46,562.20 L853.25,562.60 L853.01,563.00 L852.74,563.40 L852.45,563.80 L852.13,564.20 L851.78,564.60 L851.41,565.00 L851.02,565.40 L850.62,565.80 L850.20,566.20 L849.77,566.60 L849.32,567.00 L848.86,567.40 L848.32,567.80 L847.71,568.20 L847.07,568.60 L846.41,569.00 L845.77,569.40 L845.17,569.80 L844.63,570.20 L844.18,570.60 L843.77,571.00 L843.38,571.40 L843.01,571.80 L842.66,572.20 L842.32,572.60 L842.00,573.00 L841.68,573.40 L841.37,573.80 L841.06,574.20 L840.75,574.60 L840.44,575.00 L840.13,575.40 L839.80,575.80 L839.47,576.20 L839.13,576.60 L838.79,577.00 L838.45,577.40 L838.10,577.80 L837.77,578.20 L837.43,578.60 L837.10,579.00 L836.78,579.40 L836.46,579.80 L836.15,580.20 L835.85,580.60 L835.57,581.00 L835.29,581.40 L835.02,581.80 L834.76,582.20 L834.50,582.60 L834.24,583.00 L833.99,583.40 L833.76,583.80 L833.53,584.20 L833.31,584.60 L833.10,585.00 L832.90,585.40 L832.71,585.80 L832.51,586.20 L832.32,586.60 L832.13,587.00 L831.94,587.40 L831.76,587.80 L831.58,588.20 L831.40,588.60 L831.24,589.00 L831.08,589.40 L830.94,589.80 L830.80,590.20 L830.68,590.60 L830.58,591.00 L830.49,591.40 L830.42,591.80 L830.36,592.20 L830.30,592.60 L830.25,593.00 L830.21,593.40 L830.16,593.80 L830.12,594.20 L830.09,594.60 L830.05,595.00 L830.02,595.40 L829.99,595.80 L829.97,596.20 L829.94,596.60 L829.92,597.00 L829.89,597.40 L829.87,597.80 L829.85,598.20 L829.83,598.60 L829.81,599.00 L829.79,599.40 L829.77,599.80 L829.75,600.20 L829.74,600.60 L829.73,601.00 L829.71,601.40 L829.71,601.80 L829.70,602.20 L829.70,602.60 L829.70,603.00 L829.71,603.40 L829.71,603.80 L829.72,604.20 L829.73,604.60 L829.74,605.00 L829.75,605.40 L829.76,605.80 L829.77,606.20 L829.78,606.60 L829.79,607.00 L829.80,607.40 L829.80,607.80 L829.80,608.20 L829.80,608.60 L829.79,609.00 L829.77,609.40 L829.76,609.80 L829.74,610.20 L829.72,610.60 L829.69,611.00 L829.67,611.40 L829.64,611.80 L829.60,612.20 L829.57,612.60 L829.54,613.00 L829.50,613.40 L829.44,613.80 L829.35,614.20 L829.25,614.60 L829.15,615.00 L829.06,615.40 L829.01,615.80 L829.00,616.20 L828.99,616.60 L828.99,617.00 L828.98,617.40 L828.98,617.80 L828.97,618.20 L828.97,618.60 L828.97,619.00 L828.96,619.40 L828.96,619.80 L828.96,620.20 L828.96,620.60 L828.96,621.00 L828.96,621.40 L828.95,621.80 L828.95,622.20 L828.95,622.60 L828.95,623.00 L828.95,623.40 L828.95,623.80 L828.95,624.20 L828.95,624.60 L828.95,625.00 L828.95,625.40 L828.95,625.80 L828.95,626.20 L828.95,626.60 L828.94,627.00 L828.94,627.40 L828.94,627.80 L828.94,628.20 L828.94,628.60 L828.93,629.00 L828.93,629.40 L828.93,629.80 L828.92,630.20 L828.92,630.60 L828.91,631.00 L828.91,631.40 L828.90,631.80 L828.89,632.20 L828.81,632.60 L828.70,633.00 L828.58,633.40 L828.51,633.80 L828.50,634.20 L828.50,634.60 L828.50,635.00 L828.50,635.40 L828.50,635.80 L828.50,636.20 L828.50,636.60 L828.50,637.00 L828.50,637.40 L828.50,637.80 L828.50,638.20 L828.50,638.60 L828.50,639.00 L828.50,639.40 L828.50,639.80 L828.50,640.20 L828.50,640.60 L828.50,641.00 L828.50,641.40 L828.50,641.70 L828.50,641.70 L828.50,641.40 L828.50,641.00 L828.50,640.60 L828.50,640.20 L828.50,639.80 L828.50,639.40 L828.50,639.00 L828.50,638.60 L828.50,638.20 L828.50,637.80 L828.50,637.40 L828.50,637.00 L828.50,636.60 L828.50,636.20 L828.50,635.80 L828.50,635.40 L828.50,635.00 L828.50,634.60 L828.50,634.20 L828.49,633.80 L828.42,633.40 L828.30,633.00 L828.19,632.60 L828.11,632.20 L828.10,631.80 L828.09,631.40 L828.09,631.00 L828.08,630.60 L828.08,630.20 L828.07,629.80 L828.07,629.40 L828.07,629.00 L828.06,628.60 L828.06,628.20 L828.06,627.80 L828.06,627.40 L828.06,627.00 L828.05,626.60 L828.05,626.20 L828.05,625.80 L828.05,625.40 L828.05,625.00 L828.05,624.60 L828.05,624.20 L828.05,623.80 L828.05,623.40 L828.05,623.00 L828.05,622.60 L828.05,622.20 L828.05,621.80 L828.04,621.40 L828.04,621.00 L828.04,620.60 L828.04,620.20 L828.04,619.80 L828.04,619.40 L828.03,619.00 L828.03,618.60 L828.03,618.20 L828.02,617.80 L828.02,617.40 L828.01,617.00 L828.01,616.60 L828.00,616.20 L827.99,615.80 L827.94,615.40 L827.85,615.00 L827.75,614.60 L827.65,614.20 L827.56,613.80 L827.50,613.40 L827.46,613.00 L827.43,612.60 L827.40,612.20 L827.36,611.80 L827.33,611.40 L827.31,611.00 L827.28,610.60 L827.26,610.20 L827.24,609.80 L827.23,609.40 L827.21,609.00 L827.20,608.60 L827.20,608.20 L827.20,607.80 L827.20,607.40 L827.21,607.00 L827.22,606.60 L827.23,606.20 L827.24,605.80 L827.25,605.40 L827.26,605.00 L827.27,604.60 L827.28,604.20 L827.29,603.80 L827.29,603.40 L827.30,603.00 L827.30,602.60 L827.30,602.20 L827.29,601.80 L827.29,601.40 L827.27,601.00 L827.26,600.60 L827.25,600.20 L827.23,599.80 L827.21,599.40 L827.19,599.00 L827.17,598.60 L827.15,598.20 L827.13,597.80 L827.11,597.40 L827.08,597.00 L827.06,596.60 L827.03,596.20 L827.01,595.80 L826.98,595.40 L826.95,595.00 L826.91,594.60 L826.88,594.20 L826.84,593.80 L826.79,593.40 L826.75,593.00 L826.70,592.60 L826.64,592.20 L826.58,591.80 L826.51,591.40 L826.42,591.00 L826.32,590.60 L826.20,590.20 L826.06,589.80 L825.92,589.40 L825.76,589.00 L825.60,588.60 L825.42,588.20 L825.24,587.80 L825.06,587.40 L824.87,587.00 L824.68,586.60 L824.49,586.20 L824.29,585.80 L824.10,585.40 L823.90,585.00 L823.69,584.60 L823.47,584.20 L823.24,583.80 L823.01,583.40 L822.76,583.00 L822.50,582.60 L822.24,582.20 L821.98,581.80 L821.71,581.40 L821.43,581.00 L821.15,580.60 L820.85,580.20 L820.54,579.80 L820.22,579.40 L819.90,579.00 L819.57,578.60 L819.23,578.20 L818.90,577.80 L818.55,577.40 L818.21,577.00 L817.87,576.60 L817.53,576.20 L817.20,575.80 L816.87,575.40 L816.56,575.00 L816.25,574.60 L815.94,574.20 L815.63,573.80 L815.32,573.40 L815.00,573.00 L814.68,572.60 L814.34,572.20 L813.99,571.80 L813.62,571.40 L813.23,571.00 L812.82,570.60 L812.37,570.20 L811.83,569.80 L811.23,569.40 L810.59,569.00 L809.93,568.60 L809.29,568.20 L808.68,567.80 L808.14,567.40 L807.68,567.00 L807.23,566.60 L806.80,566.20 L806.38,565.80 L805.98,565.40 L805.59,565.00 L805.22,564.60 L804.87,564.20 L804.55,563.80 L804.26,563.40 L803.99,563.00 L803.75,562.60 L803.54,562.20 L803.33,561.80 L803.11,561.40 L802.91,561.00 L802.71,560.60 L802.53,560.20 L802.36,559.80 L802.21,559.40 L802.09,559.00 L801.99,558.60 L801.93,558.20 L801.90,557.80 L801.92,557.40 L802.01,557.00 L802.17,556.60 L802.37,556.20 L802.61,555.80 L802.87,555.40 L803.15,555.00 L803.43,554.60 L803.70,554.20 L803.97,553.80 L804.27,553.40 L804.58,553.00 L804.92,552.60 L805.28,552.20 L805.65,551.80 L806.04,551.40 L806.45,551.00 L806.87,550.60 L807.31,550.20 L807.80,549.80 L808.33,549.40 L808.89,549.00 L809.48,548.60 L810.06,548.20 L810.64,547.80 L811.20,547.40 L811.75,547.00 L812.31,546.60 L812.88,546.20 L813.45,545.80 L814.01,545.40 L814.55,545.00 L815.07,544.60 L815.55,544.20 L816.00,543.80 L816.39,543.40 L816.76,543.00 L817.09,542.60 L817.41,542.20 L817.72,541.80 L818.01,541.40 L818.31,541.00 L818.62,540.60 L818.94,540.20 L819.27,539.80 L819.61,539.40 L819.94,539.00 L820.28,538.60 L820.62,538.20 L820.96,537.80 L821.29,537.40 L821.61,537.00 L821.92,536.60 L822.21,536.20 L822.50,535.80 L822.76,535.40 L823.00,535.00 L823.23,534.60 L823.45,534.20 L823.67,533.80 L823.89,533.40 L824.09,533.00 L824.29,532.60 L824.48,532.20 L824.66,531.80 L824.82,531.40 L824.98,531.00 L825.12,530.60 L825.24,530.20 L825.36,529.80 L825.47,529.40 L825.58,529.00 L825.69,528.60 L825.79,528.20 L825.88,527.80 L825.96,527.40 L826.03,527.00 L826.07,526.60 L826.10,526.20 L826.10,525.80 L826.10,525.40 L826.10,525.00 L826.10,524.60 L826.10,524.20 L826.10,523.80 L826.10,523.40 L826.10,523.00 L826.10,522.60 L826.10,522.20 L826.10,521.80 L826.10,521.40 L826.10,521.00 L826.10,520.60 L826.10,520.20 L826.10,519.80 L826.09,519.40 L826.06,519.00 L826.03,518.60 L825.98,518.20 L825.93,517.80 L825.87,517.40 L825.80,517.00 L825.64,516.60 L825.33,516.20 L824.90,515.80 L824.38,515.40 L823.82,515.00 L823.24,514.60 L822.67,514.20 L822.16,513.80 L821.74,513.40 L821.45,513.00 L821.31,512.60 L821.32,512.20 L821.39,511.80 L821.51,511.40 L821.68,511.00 L821.89,510.60 L822.14,510.20 L822.42,509.80 L822.74,509.40 L823.07,509.00 L823.43,508.60 L823.80,508.20 L824.18,507.80 L824.57,507.40 L824.96,507.00 L825.35,506.60 L825.73,506.20 L826.10,505.80 L826.45,505.40 L826.79,505.00 L827.09,504.60 L827.37,504.20 L827.61,503.80 L827.81,503.40 L827.97,503.00 L828.08,502.60 L828.15,502.20 L828.22,501.80 L828.28,501.40 L828.33,501.00 L828.37,500.60 L828.40,500.20 L828.40,499.80 L828.41,499.40 L828.41,499.00 L828.42,498.60 L828.42,498.20 L828.42,497.80 L828.43,497.40 L828.43,497.00 L828.43,496.60 L828.44,496.20 L828.44,495.80 L828.45,495.40 L828.45,495.00 L828.45,494.60 L828.45,494.20 L828.46,493.80 L828.46,493.40 L828.46,493.00 L828.46,492.60 L828.47,492.20 L828.47,491.80 L828.47,491.40 L828.47,491.00 L828.48,490.60 L828.48,490.20 L828.48,489.80 L828.48,489.40 L828.48,489.00 L828.48,488.60 L828.49,488.20 L828.49,487.80 L828.49,487.40 L828.49,487.00 L828.49,486.60 L828.49,486.20 L828.49,485.80 L828.49,485.40 L828.49,485.00 L828.49,484.60 L828.50,484.20 L828.50,483.80 L828.50,483.40 L828.50,483.00 L828.50,482.60 L828.50,482.20 L828.50,481.80 L828.50,481.40 L828.50,481.00 L828.50,480.60 L828.50,480.20 L828.50,479.80 L828.50,479.40 L828.50,479.00 L828.50,478.60 L828.50,478.20 Z" fill="#f09032" stroke="#000" stroke-width="3.0" stroke-linejoin="round"/>
<line x1="802.85" y1="558.90" x2="854.15" y2="558.90" stroke="#000" stroke-width="3.3" stroke-dasharray="9 2.5"/>
<line x1="811.63" y1="548.90" x2="845.38" y2="548.90" stroke="#000" stroke-width="3" stroke-linecap="round" stroke-dasharray="0 5.623"/>
<line x1="813.93" y1="569.60" x2="843.08" y2="569.60" stroke="#000" stroke-width="3" stroke-linecap="round" stroke-dasharray="0 5.830"/>
<path d="M914.60,489.30 L914.60,489.70 L914.61,490.10 L914.62,490.50 L914.64,490.90 L914.65,491.30 L914.68,491.70 L914.70,492.10 L914.72,492.50 L914.75,492.90 L914.78,493.30 L914.81,493.70 L914.84,494.10 L914.87,494.50 L914.91,494.90 L914.96,495.30 L915.01,495.70 L915.06,496.10 L915.13,496.50 L915.20,496.90 L915.28,497.30 L915.36,497.70 L915.46,498.10 L915.57,498.50 L915.72,498.90 L915.95,499.30 L916.26,499.70 L916.63,500.10 L917.04,500.50 L917.49,500.90 L917.98,501.30 L918.58,501.70 L919.28,502.10 L920.05,502.50 L920.86,502.90 L921.69,503.30 L922.51,503.70 L923.35,504.10 L924.23,504.50 L925.16,504.90 L926.15,505.30 L927.23,505.70 L928.41,506.10 L929.84,506.50 L931.46,506.90 L933.13,507.30 L934.73,507.70 L936.31,508.10 L938.11,508.50 L939.82,508.90 L941.10,509.30 L941.60,509.70 L941.60,510.10 L941.60,510.50 L941.60,510.90 L941.60,511.30 L941.60,511.70 L941.60,512.10 L941.48,512.50 L941.00,512.90 L940.24,513.30 L939.31,513.70 L938.31,514.10 L937.33,514.50 L936.39,514.90 L935.34,515.30 L934.21,515.70 L933.03,516.10 L931.84,516.50 L930.67,516.90 L929.54,517.30 L928.41,517.70 L927.29,518.10 L926.16,518.50 L925.04,518.90 L923.93,519.30 L922.82,519.70 L921.59,520.10 L920.27,520.50 L918.99,520.90 L917.87,521.30 L917.00,521.70 L916.51,522.10 L916.16,522.50 L915.84,522.90 L915.58,523.30 L915.38,523.70 L915.25,524.10 L915.20,524.50 L915.21,524.90 L915.24,525.30 L915.29,525.70 L915.34,526.10 L915.41,526.50 L915.48,526.90 L915.55,527.30 L915.62,527.70 L915.69,528.10 L915.74,528.50 L915.78,528.90 L915.80,529.30 L915.80,529.70 L915.77,530.10 L915.71,530.50 L915.64,530.90 L915.55,531.30 L915.46,531.70 L915.36,532.10 L915.26,532.50 L915.17,532.90 L915.09,533.30 L915.03,533.70 L914.99,534.10 L914.96,534.50 L914.93,534.90 L914.90,535.30 L914.88,535.70 L914.86,536.10 L914.84,536.50 L914.82,536.90 L914.81,537.30 L914.80,537.70 L914.80,538.10 L914.84,538.50 L914.91,538.90 L915.02,539.30 L915.14,539.70 L915.26,540.10 L915.38,540.50 L915.49,540.90 L915.56,541.30 L915.60,541.70 L915.59,542.10 L915.57,542.50 L915.54,542.90 L915.49,543.30 L915.44,543.70 L915.38,544.10 L915.32,544.50 L915.26,544.90 L915.21,545.30 L915.16,545.70 L915.13,546.10 L915.11,546.50 L915.10,546.90 L915.11,547.30 L915.13,547.70 L915.17,548.10 L915.21,548.50 L915.26,548.90 L915.31,549.30 L915.36,549.70 L915.41,550.10 L915.49,550.50 L915.59,550.90 L915.71,551.30 L915.84,551.70 L915.97,552.10 L916.10,552.50 L916.21,552.90 L916.30,553.30 L916.37,553.70 L916.40,554.10 L916.39,554.50 L916.36,554.90 L916.30,555.30 L916.22,555.70 L916.13,556.10 L916.04,556.50 L915.94,556.90 L915.84,557.30 L915.76,557.70 L915.69,558.10 L915.63,558.50 L915.60,558.90 L915.61,559.30 L915.65,559.70 L915.73,560.10 L915.84,560.50 L915.97,560.90 L916.10,561.30 L916.23,561.70 L916.36,562.10 L916.47,562.50 L916.55,562.90 L916.59,563.30 L916.59,563.70 L916.51,564.10 L916.36,564.50 L916.18,564.90 L915.97,565.30 L915.77,565.70 L915.60,566.10 L915.47,566.50 L915.40,566.90 L915.41,567.30 L915.46,567.70 L915.54,568.10 L915.65,568.50 L915.78,568.90 L915.91,569.30 L916.05,569.70 L916.19,570.10 L916.32,570.50 L916.43,570.90 L916.52,571.30 L916.58,571.70 L916.60,572.10 L916.54,572.50 L916.38,572.90 L916.14,573.30 L915.88,573.70 L915.62,574.10 L915.39,574.50 L915.23,574.90 L915.13,575.30 L915.05,575.70 L914.97,576.10 L914.90,576.50 L914.85,576.90 L914.81,577.30 L914.80,577.70 L914.81,578.10 L914.83,578.50 L914.86,578.90 L914.90,579.30 L914.95,579.70 L915.00,580.10 L915.06,580.50 L915.11,580.90 L915.17,581.30 L915.23,581.70 L915.28,582.10 L915.32,582.50 L915.36,582.90 L915.38,583.30 L915.40,583.70 L915.40,584.10 L915.37,584.50 L915.32,584.90 L915.25,585.30 L915.17,585.70 L915.06,586.10 L914.95,586.50 L914.83,586.90 L914.70,587.30 L914.60,587.60 L914.60,587.60 L914.50,587.30 L914.37,586.90 L914.25,586.50 L914.14,586.10 L914.03,585.70 L913.95,585.30 L913.88,584.90 L913.83,584.50 L913.80,584.10 L913.80,583.70 L913.82,583.30 L913.84,582.90 L913.88,582.50 L913.92,582.10 L913.97,581.70 L914.03,581.30 L914.09,580.90 L914.14,580.50 L914.20,580.10 L914.25,579.70 L914.30,579.30 L914.34,578.90 L914.37,578.50 L914.39,578.10 L914.40,577.70 L914.39,577.30 L914.35,576.90 L914.30,576.50 L914.23,576.10 L914.15,575.70 L914.07,575.30 L913.97,574.90 L913.81,574.50 L913.58,574.10 L913.32,573.70 L913.06,573.30 L912.82,572.90 L912.66,572.50 L912.60,572.10 L912.62,571.70 L912.68,571.30 L912.77,570.90 L912.88,570.50 L913.01,570.10 L913.15,569.70 L913.29,569.30 L913.42,568.90 L913.55,568.50 L913.66,568.10 L913.74,567.70 L913.79,567.30 L913.80,566.90 L913.73,566.50 L913.60,566.10 L913.43,565.70 L913.23,565.30 L913.02,564.90 L912.84,564.50 L912.69,564.10 L912.61,563.70 L912.61,563.30 L912.65,562.90 L912.73,562.50 L912.84,562.10 L912.97,561.70 L913.10,561.30 L913.23,560.90 L913.36,560.50 L913.47,560.10 L913.55,559.70 L913.59,559.30 L913.60,558.90 L913.57,558.50 L913.51,558.10 L913.44,557.70 L913.36,557.30 L913.26,556.90 L913.16,556.50 L913.07,556.10 L912.98,555.70 L912.90,555.30 L912.84,554.90 L912.81,554.50 L912.80,554.10 L912.83,553.70 L912.90,553.30 L912.99,552.90 L913.10,552.50 L913.23,552.10 L913.36,551.70 L913.49,551.30 L913.61,550.90 L913.71,550.50 L913.79,550.10 L913.84,549.70 L913.89,549.30 L913.94,548.90 L913.99,548.50 L914.03,548.10 L914.07,547.70 L914.09,547.30 L914.10,546.90 L914.09,546.50 L914.07,546.10 L914.04,545.70 L913.99,545.30 L913.94,544.90 L913.88,544.50 L913.82,544.10 L913.76,543.70 L913.71,543.30 L913.66,542.90 L913.63,542.50 L913.61,542.10 L913.60,541.70 L913.64,541.30 L913.71,540.90 L913.82,540.50 L913.94,540.10 L914.06,539.70 L914.18,539.30 L914.29,538.90 L914.36,538.50 L914.40,538.10 L914.40,537.70 L914.39,537.30 L914.38,536.90 L914.36,536.50 L914.34,536.10 L914.32,535.70 L914.30,535.30 L914.27,534.90 L914.24,534.50 L914.21,534.10 L914.17,533.70 L914.11,533.30 L914.03,532.90 L913.94,532.50 L913.84,532.10 L913.74,531.70 L913.65,531.30 L913.56,530.90 L913.49,530.50 L913.43,530.10 L913.40,529.70 L913.40,529.30 L913.42,528.90 L913.46,528.50 L913.51,528.10 L913.58,527.70 L913.65,527.30 L913.72,526.90 L913.79,526.50 L913.86,526.10 L913.91,525.70 L913.96,525.30 L913.99,524.90 L914.00,524.50 L913.95,524.10 L913.82,523.70 L913.62,523.30 L913.36,522.90 L913.04,522.50 L912.69,522.10 L912.20,521.70 L911.33,521.30 L910.21,520.90 L908.93,520.50 L907.61,520.10 L906.38,519.70 L905.27,519.30 L904.16,518.90 L903.04,518.50 L901.91,518.10 L900.79,517.70 L899.66,517.30 L898.53,516.90 L897.36,516.50 L896.17,516.10 L894.99,515.70 L893.86,515.30 L892.81,514.90 L891.87,514.50 L890.89,514.10 L889.89,513.70 L888.96,513.30 L888.20,512.90 L887.72,512.50 L887.60,512.10 L887.60,511.70 L887.60,511.30 L887.60,510.90 L887.60,510.50 L887.60,510.10 L887.60,509.70 L888.10,509.30 L889.38,508.90 L891.09,508.50 L892.89,508.10 L894.47,507.70 L896.07,507.30 L897.74,506.90 L899.36,506.50 L900.79,506.10 L901.97,505.70 L903.05,505.30 L904.04,504.90 L904.97,504.50 L905.85,504.10 L906.69,503.70 L907.51,503.30 L908.34,502.90 L909.15,502.50 L909.92,502.10 L910.62,501.70 L911.22,501.30 L911.71,500.90 L912.16,500.50 L912.57,500.10 L912.94,499.70 L913.25,499.30 L913.48,498.90 L913.63,498.50 L913.74,498.10 L913.84,497.70 L913.92,497.30 L914.00,496.90 L914.07,496.50 L914.14,496.10 L914.19,495.70 L914.24,495.30 L914.29,494.90 L914.33,494.50 L914.36,494.10 L914.39,493.70 L914.42,493.30 L914.45,492.90 L914.48,492.50 L914.50,492.10 L914.52,491.70 L914.55,491.30 L914.56,490.90 L914.58,490.50 L914.59,490.10 L914.60,489.70 L914.60,489.30 Z" fill="#0e8a88" stroke="#000" stroke-width="3.0" stroke-linejoin="round"/>
<line x1="888.47" y1="512.40" x2="940.73" y2="512.40" stroke="#000" stroke-width="3.3" stroke-dasharray="9 2.5"/>
<line x1="893.18" y1="508.80" x2="936.03" y2="508.80" stroke="#000" stroke-width="3" stroke-linecap="round" stroke-dasharray="0 5.355"/>
<line x1="898.80" y1="516.10" x2="930.41" y2="516.10" stroke="#000" stroke-width="3" stroke-linecap="round" stroke-dasharray="0 5.267"/>
<path d="M1000.80,523.10 L1000.80,523.50 L1000.80,523.90 L1000.80,524.30 L1000.81,524.70 L1000.81,525.10 L1000.82,525.50 L1000.82,525.90 L1000.83,526.30 L1000.84,526.70 L1000.84,527.10 L1000.85,527.50 L1000.86,527.90 L1000.88,528.30 L1000.89,528.70 L1000.91,529.10 L1001.00,529.50 L1001.18,529.90 L1001.42,530.30 L1001.70,530.70 L1002.01,531.10 L1002.32,531.50 L1002.61,531.90 L1002.86,532.30 L1003.09,532.70 L1003.31,533.10 L1003.52,533.50 L1003.74,533.90 L1003.95,534.30 L1004.17,534.70 L1004.40,535.10 L1004.64,535.50 L1004.89,535.90 L1005.16,536.30 L1005.45,536.70 L1005.76,537.10 L1006.09,537.50 L1006.44,537.90 L1006.81,538.30 L1007.19,538.70 L1007.58,539.10 L1007.98,539.50 L1008.39,539.90 L1008.79,540.30 L1009.20,540.70 L1009.62,541.10 L1010.07,541.50 L1010.54,541.90 L1011.02,542.30 L1011.49,542.70 L1011.95,543.10 L1012.36,543.50 L1012.72,543.90 L1013.04,544.30 L1013.37,544.70 L1013.70,545.10 L1014.01,545.50 L1014.29,545.90 L1014.53,546.30 L1014.70,546.70 L1014.79,547.10 L1014.77,547.50 L1014.55,547.90 L1014.17,548.30 L1013.67,548.70 L1013.10,549.10 L1012.51,549.50 L1011.96,549.90 L1011.49,550.30 L1011.12,550.70 L1010.75,551.10 L1010.37,551.50 L1010.02,551.90 L1009.72,552.30 L1009.51,552.70 L1009.40,553.10 L1009.54,553.50 L1010.09,553.90 L1010.96,554.30 L1012.03,554.70 L1013.19,555.10 L1014.32,555.50 L1015.30,555.90 L1016.17,556.30 L1017.05,556.70 L1017.92,557.10 L1018.80,557.50 L1019.70,557.90 L1020.61,558.30 L1021.49,558.70 L1022.30,559.10 L1023.05,559.50 L1023.76,559.90 L1024.42,560.30 L1025.00,560.70 L1025.53,561.10 L1026.03,561.50 L1026.46,561.90 L1026.80,562.30 L1027.08,562.70 L1027.34,563.10 L1027.53,563.50 L1027.60,563.90 L1027.52,564.30 L1027.31,564.70 L1026.98,565.10 L1026.58,565.50 L1026.13,565.90 L1025.65,566.30 L1025.18,566.70 L1024.62,567.10 L1023.94,567.50 L1023.18,567.90 L1022.37,568.30 L1021.53,568.70 L1020.69,569.10 L1019.87,569.50 L1019.11,569.90 L1018.30,570.30 L1017.42,570.70 L1016.52,571.10 L1015.65,571.50 L1014.85,571.90 L1014.16,572.30 L1013.63,572.70 L1013.30,573.10 L1013.10,573.50 L1012.94,573.90 L1012.79,574.30 L1012.67,574.70 L1012.56,575.10 L1012.47,575.50 L1012.38,575.90 L1012.30,576.30 L1012.23,576.70 L1012.17,577.10 L1012.12,577.50 L1012.08,577.90 L1012.03,578.30 L1011.97,578.70 L1011.90,579.10 L1011.80,579.50 L1011.62,579.90 L1011.30,580.30 L1010.89,580.70 L1010.40,581.10 L1009.87,581.50 L1009.32,581.90 L1008.79,582.30 L1008.30,582.70 L1007.83,583.10 L1007.34,583.50 L1006.83,583.90 L1006.32,584.30 L1005.82,584.70 L1005.33,585.10 L1004.85,585.50 L1004.41,585.90 L1003.97,586.30 L1003.48,586.70 L1002.98,587.10 L1002.49,587.50 L1002.05,587.90 L1001.69,588.30 L1001.43,588.70 L1001.31,589.10 L1001.30,589.50 L1001.30,589.90 L1001.30,590.30 L1001.30,590.70 L1001.30,591.10 L1001.30,591.50 L1001.30,591.90 L1001.30,592.30 L1001.35,592.70 L1001.55,593.10 L1001.87,593.50 L1002.27,593.90 L1002.70,594.30 L1003.11,594.70 L1003.48,595.10 L1003.75,595.50 L1003.93,595.90 L1004.11,596.30 L1004.27,596.70 L1004.44,597.10 L1004.59,597.50 L1004.72,597.90 L1004.84,598.30 L1004.95,598.70 L1005.02,599.10 L1005.08,599.50 L1005.10,599.90 L1005.07,600.30 L1004.95,600.70 L1004.76,601.10 L1004.50,601.50 L1004.19,601.90 L1003.86,602.30 L1003.50,602.70 L1003.15,603.10 L1002.81,603.50 L1002.50,603.90 L1002.24,604.30 L1001.95,604.70 L1001.65,605.10 L1001.36,605.50 L1001.14,605.90 L1001.01,606.30 L1000.98,606.70 L1000.95,607.10 L1000.92,607.50 L1000.90,607.90 L1000.88,608.30 L1000.86,608.70 L1000.85,609.10 L1000.83,609.50 L1000.82,609.90 L1000.81,610.30 L1000.81,610.70 L1000.80,611.10 L1000.80,611.50 L1000.80,611.80 L1000.80,611.80 L1000.80,611.50 L1000.80,611.10 L1000.79,610.70 L1000.79,610.30 L1000.78,609.90 L1000.77,609.50 L1000.75,609.10 L1000.74,608.70 L1000.72,608.30 L1000.70,607.90 L1000.68,607.50 L1000.65,607.10 L1000.62,606.70 L1000.59,606.30 L1000.46,605.90 L1000.24,605.50 L999.95,605.10 L999.65,604.70 L999.36,604.30 L999.10,603.90 L998.79,603.50 L998.45,603.10 L998.10,602.70 L997.74,602.30 L997.41,601.90 L997.10,601.50 L996.84,601.10 L996.65,600.70 L996.53,600.30 L996.50,599.90 L996.52,599.50 L996.58,599.10 L996.65,598.70 L996.76,598.30 L996.88,597.90 L997.01,597.50 L997.16,597.10 L997.33,596.70 L997.49,596.30 L997.67,595.90 L997.85,595.50 L998.12,595.10 L998.49,594.70 L998.90,594.30 L999.33,593.90 L999.73,593.50 L1000.05,593.10 L1000.25,592.70 L1000.30,592.30 L1000.30,591.90 L1000.30,591.50 L1000.30,591.10 L1000.30,590.70 L1000.30,590.30 L1000.30,589.90 L1000.30,589.50 L1000.29,589.10 L1000.17,588.70 L999.91,588.30 L999.55,587.90 L999.11,587.50 L998.62,587.10 L998.12,586.70 L997.63,586.30 L997.19,585.90 L996.75,585.50 L996.27,585.10 L995.78,584.70 L995.28,584.30 L994.77,583.90 L994.26,583.50 L993.77,583.10 L993.30,582.70 L992.81,582.30 L992.28,581.90 L991.73,581.50 L991.20,581.10 L990.71,580.70 L990.30,580.30 L989.98,579.90 L989.80,579.50 L989.70,579.10 L989.63,578.70 L989.57,578.30 L989.52,577.90 L989.48,577.50 L989.43,577.10 L989.37,576.70 L989.30,576.30 L989.22,575.90 L989.13,575.50 L989.04,575.10 L988.93,574.70 L988.81,574.30 L988.66,573.90 L988.50,573.50 L988.30,573.10 L987.97,572.70 L987.44,572.30 L986.75,571.90 L985.95,571.50 L985.08,571.10 L984.18,570.70 L983.30,570.30 L982.49,569.90 L981.73,569.50 L980.91,569.10 L980.07,568.70 L979.23,568.30 L978.42,567.90 L977.66,567.50 L976.98,567.10 L976.42,566.70 L975.95,566.30 L975.47,565.90 L975.02,565.50 L974.62,565.10 L974.29,564.70 L974.08,564.30 L974.00,563.90 L974.07,563.50 L974.26,563.10 L974.52,562.70 L974.80,562.30 L975.14,561.90 L975.57,561.50 L976.07,561.10 L976.60,560.70 L977.18,560.30 L977.84,559.90 L978.55,559.50 L979.30,559.10 L980.11,558.70 L980.99,558.30 L981.90,557.90 L982.80,557.50 L983.68,557.10 L984.55,556.70 L985.43,556.30 L986.30,555.90 L987.28,555.50 L988.41,555.10 L989.57,554.70 L990.64,554.30 L991.51,553.90 L992.06,553.50 L992.20,553.10 L992.09,552.70 L991.88,552.30 L991.58,551.90 L991.23,551.50 L990.85,551.10 L990.48,550.70 L990.11,550.30 L989.64,549.90 L989.09,549.50 L988.50,549.10 L987.93,548.70 L987.43,548.30 L987.05,547.90 L986.83,547.50 L986.81,547.10 L986.90,546.70 L987.07,546.30 L987.31,545.90 L987.59,545.50 L987.90,545.10 L988.23,544.70 L988.56,544.30 L988.88,543.90 L989.24,543.50 L989.65,543.10 L990.11,542.70 L990.58,542.30 L991.06,541.90 L991.53,541.50 L991.98,541.10 L992.40,540.70 L992.81,540.30 L993.21,539.90 L993.62,539.50 L994.02,539.10 L994.41,538.70 L994.79,538.30 L995.16,537.90 L995.51,537.50 L995.84,537.10 L996.15,536.70 L996.44,536.30 L996.71,535.90 L996.96,535.50 L997.20,535.10 L997.43,534.70 L997.65,534.30 L997.86,533.90 L998.08,533.50 L998.29,533.10 L998.51,532.70 L998.74,532.30 L998.99,531.90 L999.28,531.50 L999.59,531.10 L999.90,530.70 L1000.18,530.30 L1000.42,529.90 L1000.60,529.50 L1000.69,529.10 L1000.71,528.70 L1000.72,528.30 L1000.74,527.90 L1000.75,527.50 L1000.76,527.10 L1000.76,526.70 L1000.77,526.30 L1000.78,525.90 L1000.78,525.50 L1000.79,525.10 L1000.79,524.70 L1000.80,524.30 L1000.80,523.90 L1000.80,523.50 L1000.80,523.10 Z" fill="#bbbbbb" stroke="#000" stroke-width="3.0" stroke-linejoin="round"/>
<line x1="974.50" y1="563.90" x2="1027.10" y2="563.90" stroke="#000" stroke-width="3.3" stroke-dasharray="9 2.5"/>
<line x1="994.70" y1="553.20" x2="1006.91" y2="553.20" stroke="#000" stroke-width="3" stroke-linecap="round" stroke-dasharray="0 6.100"/>
<line x1="986.80" y1="570.90" x2="1014.81" y2="570.90" stroke="#000" stroke-width="3" stroke-linecap="round" stroke-dasharray="0 5.600"/>
<rect x="1042.3" y="478.9" width="15.7" height="15.7" fill="#f29a45"/>
<rect x="1042.3" y="505.8" width="15.7" height="15.7" fill="#069e91"/>
<rect x="1042.3" y="529.4" width="15.7" height="15.7" fill="#b1b2b5"/>
<text transform="translate(1064.35,494.80) scale(1,1.0)" font-size="24.80" fill="#000" stroke="#000" stroke-width="0.3">Missense</text>
<text transform="translate(1065.15,519.00) scale(1,1.0)" font-size="24.90" fill="#000" stroke="#000" stroke-width="0.3">Nonsense</text>
<text transform="translate(1066.08,544.30) scale(1,1.0)" font-size="24.80" fill="#000" stroke="#000" stroke-width="0.3">Silent</text>
<line x1="770.20" y1="728.00" x2="770.20" y2="921.10" stroke="#000" stroke-width="1.6" />
<line x1="755.90" y1="920.40" x2="1057.20" y2="920.40" stroke="#000" stroke-width="1.6" />
<line x1="755.50" y1="728.00" x2="770.20" y2="728.00" stroke="#000" stroke-width="1.6" />
<text transform="translate(733.61,738.80) scale(1,0.955)" font-size="30.50" fill="#000" stroke="#000" stroke-width="0.3">4</text>
<line x1="755.50" y1="776.10" x2="770.20" y2="776.10" stroke="#000" stroke-width="1.6" />
<text transform="translate(734.30,786.90) scale(1,0.955)" font-size="30.50" fill="#000" stroke="#000" stroke-width="0.3">2</text>
<line x1="755.50" y1="824.20" x2="770.20" y2="824.20" stroke="#000" stroke-width="1.6" />
<text transform="translate(733.92,835.00) scale(1,0.955)" font-size="30.50" fill="#000" stroke="#000" stroke-width="0.3">0</text>
<line x1="755.50" y1="872.30" x2="770.20" y2="872.30" stroke="#000" stroke-width="1.6" />
<text transform="translate(724.16,883.10) scale(1,0.955)" font-size="30.50" fill="#000" stroke="#000" stroke-width="0.3">-2</text>
<line x1="755.50" y1="920.40" x2="770.20" y2="920.40" stroke="#000" stroke-width="1.6" />
<text transform="translate(723.47,931.20) scale(1,0.955)" font-size="30.50" fill="#000" stroke="#000" stroke-width="0.3">-4</text>
<line x1="827.40" y1="920.40" x2="827.40" y2="930.00" stroke="#000" stroke-width="1.6" />
<line x1="914.20" y1="920.40" x2="914.20" y2="930.00" stroke="#000" stroke-width="1.6" />
<line x1="1000.20" y1="920.40" x2="1000.20" y2="930.00" stroke="#000" stroke-width="1.6" />
<text transform="translate(715.20,858.90) rotate(-90) scale(1,1.05)" x="-2.26" y="0" font-size="27.40" fill="#000" stroke="#000" stroke-width="0.3">LOG2FC</text>
<circle cx="770.20" cy="824.20" r="2.45" fill="#000" />
<circle cx="780.32" cy="824.20" r="2.45" fill="#000" />
<circle cx="790.44" cy="824.20" r="2.45" fill="#000" />
<circle cx="800.56" cy="824.20" r="2.45" fill="#000" />
<circle cx="810.69" cy="824.20" r="2.45" fill="#000" />
<circle cx="820.81" cy="824.20" r="2.45" fill="#000" />
<circle cx="830.93" cy="824.20" r="2.45" fill="#000" />
<circle cx="841.05" cy="824.20" r="2.45" fill="#000" />
<circle cx="851.17" cy="824.20" r="2.45" fill="#000" />
<circle cx="861.29" cy="824.20" r="2.45" fill="#000" />
<circle cx="871.41" cy="824.20" r="2.45" fill="#000" />
<circle cx="881.54" cy="824.20" r="2.45" fill="#000" />
<circle cx="891.66" cy="824.20" r="2.45" fill="#000" />
<circle cx="901.78" cy="824.20" r="2.45" fill="#000" />
<circle cx="911.90" cy="824.20" r="2.45" fill="#000" />
<circle cx="922.02" cy="824.20" r="2.45" fill="#000" />
<circle cx="932.14" cy="824.20" r="2.45" fill="#000" />
<circle cx="942.26" cy="824.20" r="2.45" fill="#000" />
<circle cx="952.39" cy="824.20" r="2.45" fill="#000" />
<circle cx="962.51" cy="824.20" r="2.45" fill="#000" />
<circle cx="972.63" cy="824.20" r="2.45" fill="#000" />
<circle cx="982.75" cy="824.20" r="2.45" fill="#000" />
<circle cx="992.87" cy="824.20" r="2.45" fill="#000" />
<circle cx="1002.99" cy="824.20" r="2.45" fill="#000" />
<circle cx="1013.11" cy="824.20" r="2.45" fill="#000" />
<circle cx="1023.24" cy="824.20" r="2.45" fill="#000" />
<circle cx="1033.36" cy="824.20" r="2.45" fill="#000" />
<circle cx="1043.48" cy="824.20" r="2.45" fill="#000" />
<circle cx="1053.60" cy="824.20" r="2.45" fill="#000" />
<path d="M827.40,747.50 L827.40,747.90 L827.40,748.30 L827.40,748.70 L827.40,749.10 L827.40,749.50 L827.40,749.90 L827.40,750.30 L827.40,750.70 L827.40,751.10 L827.40,751.50 L827.40,751.90 L827.41,752.30 L827.41,752.70 L827.41,753.10 L827.41,753.50 L827.41,753.90 L827.41,754.30 L827.41,754.70 L827.41,755.10 L827.41,755.50 L827.42,755.90 L827.42,756.30 L827.42,756.70 L827.42,757.10 L827.42,757.50 L827.42,757.90 L827.42,758.30 L827.43,758.70 L827.43,759.10 L827.43,759.50 L827.43,759.90 L827.43,760.30 L827.44,760.70 L827.44,761.10 L827.44,761.50 L827.44,761.90 L827.45,762.30 L827.45,762.70 L827.45,763.10 L827.45,763.50 L827.45,763.90 L827.46,764.30 L827.46,764.70 L827.46,765.10 L827.47,765.50 L827.47,765.90 L827.47,766.30 L827.47,766.70 L827.48,767.10 L827.48,767.50 L827.48,767.90 L827.49,768.30 L827.49,768.70 L827.49,769.10 L827.50,769.50 L827.50,769.90 L827.50,770.30 L827.51,770.70 L827.51,771.10 L827.51,771.50 L827.52,771.90 L827.52,772.30 L827.53,772.70 L827.53,773.10 L827.54,773.50 L827.54,773.90 L827.55,774.30 L827.56,774.70 L827.56,775.10 L827.57,775.50 L827.58,775.90 L827.59,776.30 L827.60,776.70 L827.61,777.10 L827.62,777.50 L827.63,777.90 L827.64,778.30 L827.66,778.70 L827.67,779.10 L827.69,779.50 L827.70,779.90 L827.72,780.30 L827.74,780.70 L827.76,781.10 L827.77,781.50 L827.79,781.90 L827.82,782.30 L827.84,782.70 L827.86,783.10 L827.89,783.50 L827.92,783.90 L827.98,784.30 L828.08,784.70 L828.22,785.10 L828.38,785.50 L828.56,785.90 L828.77,786.30 L828.99,786.70 L829.22,787.10 L829.46,787.50 L829.71,787.90 L829.96,788.30 L830.25,788.70 L830.58,789.10 L830.94,789.50 L831.34,789.90 L831.76,790.30 L832.21,790.70 L832.68,791.10 L833.15,791.50 L833.63,791.90 L834.12,792.30 L834.60,792.70 L835.11,793.10 L835.66,793.50 L836.23,793.90 L836.79,794.30 L837.33,794.70 L837.82,795.10 L838.28,795.50 L838.73,795.90 L839.15,796.30 L839.55,796.70 L839.92,797.10 L840.25,797.50 L840.58,797.90 L840.89,798.30 L841.17,798.70 L841.41,799.10 L841.60,799.50 L841.76,799.90 L841.91,800.30 L842.04,800.70 L842.14,801.10 L842.19,801.50 L842.18,801.90 L842.03,802.30 L841.77,802.70 L841.44,803.10 L841.07,803.50 L840.69,803.90 L840.30,804.30 L839.83,804.70 L839.30,805.10 L838.76,805.50 L838.24,805.90 L837.79,806.30 L837.34,806.70 L836.90,807.10 L836.52,807.50 L836.25,807.90 L836.08,808.30 L835.94,808.70 L835.82,809.10 L835.74,809.50 L835.70,809.90 L835.74,810.30 L835.90,810.70 L836.15,811.10 L836.47,811.50 L836.81,811.90 L837.22,812.30 L837.78,812.70 L838.46,813.10 L839.17,813.50 L839.87,813.90 L840.59,814.30 L841.35,814.70 L842.13,815.10 L842.92,815.50 L843.71,815.90 L844.48,816.30 L845.25,816.70 L846.03,817.10 L846.81,817.50 L847.60,817.90 L848.40,818.30 L849.26,818.70 L850.18,819.10 L851.04,819.50 L851.76,819.90 L852.30,820.30 L852.81,820.70 L853.25,821.10 L853.61,821.50 L853.86,821.90 L854.01,822.30 L854.13,822.70 L854.24,823.10 L854.33,823.50 L854.38,823.90 L854.40,824.30 L854.35,824.70 L854.21,825.10 L854.00,825.50 L853.73,825.90 L853.44,826.30 L853.14,826.70 L852.84,827.10 L852.56,827.50 L852.26,827.90 L851.93,828.30 L851.59,828.70 L851.24,829.10 L850.90,829.50 L850.56,829.90 L850.22,830.30 L849.87,830.70 L849.52,831.10 L849.17,831.50 L848.81,831.90 L848.45,832.30 L848.08,832.70 L847.72,833.10 L847.35,833.50 L846.99,833.90 L846.64,834.30 L846.29,834.70 L845.95,835.10 L845.60,835.50 L845.26,835.90 L844.90,836.30 L844.54,836.70 L844.18,837.10 L843.83,837.50 L843.46,837.90 L843.09,838.30 L842.71,838.70 L842.31,839.10 L841.90,839.50 L841.47,839.90 L841.02,840.30 L840.56,840.70 L840.07,841.10 L839.58,841.50 L839.06,841.90 L838.53,842.30 L837.98,842.70 L837.38,843.10 L836.75,843.50 L836.12,843.90 L835.50,844.30 L834.90,844.70 L834.32,845.10 L833.74,845.50 L833.17,845.90 L832.63,846.30 L832.13,846.70 L831.68,847.10 L831.23,847.50 L830.81,847.90 L830.43,848.30 L830.10,848.70 L829.84,849.10 L829.62,849.50 L829.41,849.90 L829.23,850.30 L829.07,850.70 L828.96,851.10 L828.88,851.50 L828.83,851.90 L828.78,852.30 L828.74,852.70 L828.71,853.10 L828.67,853.50 L828.65,853.90 L828.62,854.30 L828.60,854.70 L828.57,855.10 L828.55,855.50 L828.53,855.90 L828.50,856.30 L828.47,856.70 L828.43,857.10 L828.39,857.50 L828.34,857.90 L828.28,858.30 L828.21,858.70 L828.14,859.10 L828.06,859.50 L827.98,859.90 L827.91,860.30 L827.83,860.70 L827.76,861.10 L827.69,861.50 L827.63,861.90 L827.58,862.30 L827.54,862.70 L827.51,863.10 L827.50,863.50 L827.49,863.90 L827.48,864.30 L827.47,864.70 L827.47,865.10 L827.46,865.50 L827.45,865.90 L827.45,866.30 L827.44,866.70 L827.44,867.10 L827.43,867.50 L827.43,867.90 L827.42,868.30 L827.42,868.70 L827.41,869.10 L827.41,869.50 L827.41,869.90 L827.41,870.30 L827.40,870.70 L827.40,871.10 L827.40,871.50 L827.40,871.90 L827.40,872.30 L827.40,872.50 L827.40,872.50 L827.40,872.30 L827.40,871.90 L827.40,871.50 L827.40,871.10 L827.40,870.70 L827.39,870.30 L827.39,869.90 L827.39,869.50 L827.39,869.10 L827.38,868.70 L827.38,868.30 L827.37,867.90 L827.37,867.50 L827.36,867.10 L827.36,866.70 L827.35,866.30 L827.35,865.90 L827.34,865.50 L827.33,865.10 L827.33,864.70 L827.32,864.30 L827.31,863.90 L827.30,863.50 L827.29,863.10 L827.26,862.70 L827.22,862.30 L827.17,861.90 L827.11,861.50 L827.04,861.10 L826.97,860.70 L826.89,860.30 L826.82,859.90 L826.74,859.50 L826.66,859.10 L826.59,858.70 L826.52,858.30 L826.46,857.90 L826.41,857.50 L826.37,857.10 L826.33,856.70 L826.30,856.30 L826.27,855.90 L826.25,855.50 L826.23,855.10 L826.20,854.70 L826.18,854.30 L826.15,853.90 L826.13,853.50 L826.09,853.10 L826.06,852.70 L826.02,852.30 L825.97,851.90 L825.92,851.50 L825.84,851.10 L825.73,850.70 L825.57,850.30 L825.39,849.90 L825.18,849.50 L824.96,849.10 L824.70,848.70 L824.37,848.30 L823.99,847.90 L823.57,847.50 L823.12,847.10 L822.67,846.70 L822.17,846.30 L821.63,845.90 L821.06,845.50 L820.48,845.10 L819.90,844.70 L819.30,844.30 L818.68,843.90 L818.05,843.50 L817.42,843.10 L816.82,842.70 L816.27,842.30 L815.74,841.90 L815.22,841.50 L814.73,841.10 L814.24,840.70 L813.78,840.30 L813.33,839.90 L812.90,839.50 L812.49,839.10 L812.09,838.70 L811.71,838.30 L811.34,837.90 L810.97,837.50 L810.62,837.10 L810.26,836.70 L809.90,836.30 L809.54,835.90 L809.20,835.50 L808.85,835.10 L808.51,834.70 L808.16,834.30 L807.81,833.90 L807.45,833.50 L807.08,833.10 L806.72,832.70 L806.35,832.30 L805.99,831.90 L805.63,831.50 L805.28,831.10 L804.93,830.70 L804.58,830.30 L804.24,829.90 L803.90,829.50 L803.56,829.10 L803.21,828.70 L802.87,828.30 L802.54,827.90 L802.24,827.50 L801.96,827.10 L801.66,826.70 L801.36,826.30 L801.07,825.90 L800.80,825.50 L800.59,825.10 L800.45,824.70 L800.40,824.30 L800.42,823.90 L800.47,823.50 L800.56,823.10 L800.67,822.70 L800.79,822.30 L800.94,821.90 L801.19,821.50 L801.55,821.10 L801.99,820.70 L802.50,820.30 L803.04,819.90 L803.76,819.50 L804.62,819.10 L805.54,818.70 L806.40,818.30 L807.20,817.90 L807.99,817.50 L808.77,817.10 L809.55,816.70 L810.32,816.30 L811.09,815.90 L811.88,815.50 L812.67,815.10 L813.45,814.70 L814.21,814.30 L814.93,813.90 L815.63,813.50 L816.34,813.10 L817.02,812.70 L817.58,812.30 L817.99,811.90 L818.33,811.50 L818.65,811.10 L818.90,810.70 L819.06,810.30 L819.10,809.90 L819.06,809.50 L818.98,809.10 L818.86,808.70 L818.72,808.30 L818.55,807.90 L818.28,807.50 L817.90,807.10 L817.46,806.70 L817.01,806.30 L816.56,805.90 L816.04,805.50 L815.50,805.10 L814.97,804.70 L814.50,804.30 L814.11,803.90 L813.73,803.50 L813.36,803.10 L813.03,802.70 L812.77,802.30 L812.62,801.90 L812.61,801.50 L812.66,801.10 L812.76,800.70 L812.89,800.30 L813.04,799.90 L813.20,799.50 L813.39,799.10 L813.63,798.70 L813.91,798.30 L814.22,797.90 L814.55,797.50 L814.88,797.10 L815.25,796.70 L815.65,796.30 L816.07,795.90 L816.52,795.50 L816.98,795.10 L817.47,794.70 L818.01,794.30 L818.57,793.90 L819.14,793.50 L819.69,793.10 L820.20,792.70 L820.68,792.30 L821.17,791.90 L821.65,791.50 L822.12,791.10 L822.59,790.70 L823.04,790.30 L823.46,789.90 L823.86,789.50 L824.22,789.10 L824.55,788.70 L824.84,788.30 L825.09,787.90 L825.34,787.50 L825.58,787.10 L825.81,786.70 L826.03,786.30 L826.24,785.90 L826.42,785.50 L826.58,785.10 L826.72,784.70 L826.82,784.30 L826.88,783.90 L826.91,783.50 L826.94,783.10 L826.96,782.70 L826.98,782.30 L827.01,781.90 L827.03,781.50 L827.04,781.10 L827.06,780.70 L827.08,780.30 L827.10,779.90 L827.11,779.50 L827.13,779.10 L827.14,778.70 L827.16,778.30 L827.17,777.90 L827.18,777.50 L827.19,777.10 L827.20,776.70 L827.21,776.30 L827.22,775.90 L827.23,775.50 L827.24,775.10 L827.24,774.70 L827.25,774.30 L827.26,773.90 L827.26,773.50 L827.27,773.10 L827.27,772.70 L827.28,772.30 L827.28,771.90 L827.29,771.50 L827.29,771.10 L827.29,770.70 L827.30,770.30 L827.30,769.90 L827.30,769.50 L827.31,769.10 L827.31,768.70 L827.31,768.30 L827.32,767.90 L827.32,767.50 L827.32,767.10 L827.33,766.70 L827.33,766.30 L827.33,765.90 L827.33,765.50 L827.34,765.10 L827.34,764.70 L827.34,764.30 L827.35,763.90 L827.35,763.50 L827.35,763.10 L827.35,762.70 L827.35,762.30 L827.36,761.90 L827.36,761.50 L827.36,761.10 L827.36,760.70 L827.37,760.30 L827.37,759.90 L827.37,759.50 L827.37,759.10 L827.37,758.70 L827.38,758.30 L827.38,757.90 L827.38,757.50 L827.38,757.10 L827.38,756.70 L827.38,756.30 L827.38,755.90 L827.39,755.50 L827.39,755.10 L827.39,754.70 L827.39,754.30 L827.39,753.90 L827.39,753.50 L827.39,753.10 L827.39,752.70 L827.39,752.30 L827.40,751.90 L827.40,751.50 L827.40,751.10 L827.40,750.70 L827.40,750.30 L827.40,749.90 L827.40,749.50 L827.40,749.10 L827.40,748.70 L827.40,748.30 L827.40,747.90 L827.40,747.50 Z" fill="#f5a356" stroke="#000" stroke-width="3.0" stroke-linejoin="round"/>
<line x1="801.29" y1="822.50" x2="853.51" y2="822.50" stroke="#000" stroke-width="3.3" stroke-dasharray="9 2.5"/>
<line x1="821.60" y1="810.00" x2="833.21" y2="810.00" stroke="#000" stroke-width="3" stroke-linecap="round" stroke-dasharray="0 5.800"/>
<line x1="807.53" y1="830.80" x2="847.28" y2="830.80" stroke="#000" stroke-width="3" stroke-linecap="round" stroke-dasharray="0 5.677"/>
<path d="M913.70,760.30 L913.72,760.70 L913.73,761.10 L913.75,761.50 L913.77,761.90 L913.78,762.30 L913.80,762.70 L913.82,763.10 L913.84,763.50 L913.86,763.90 L913.88,764.30 L913.89,764.70 L913.91,765.10 L913.93,765.50 L913.95,765.90 L913.97,766.30 L913.99,766.70 L914.02,767.10 L914.03,767.50 L914.05,767.90 L914.07,768.30 L914.09,768.70 L914.11,769.10 L914.13,769.50 L914.15,769.90 L914.17,770.30 L914.20,770.70 L914.23,771.10 L914.26,771.50 L914.29,771.90 L914.34,772.30 L914.41,772.70 L914.50,773.10 L914.61,773.50 L914.73,773.90 L914.84,774.30 L914.95,774.70 L915.05,775.10 L915.13,775.50 L915.18,775.90 L915.20,776.30 L915.17,776.70 L915.07,777.10 L914.93,777.50 L914.76,777.90 L914.57,778.30 L914.39,778.70 L914.21,779.10 L914.06,779.50 L913.95,779.90 L913.90,780.30 L913.93,780.70 L914.05,781.10 L914.24,781.50 L914.50,781.90 L914.79,782.30 L915.12,782.70 L915.45,783.10 L915.78,783.50 L916.15,783.90 L916.58,784.30 L917.05,784.70 L917.56,785.10 L918.11,785.50 L918.68,785.90 L919.28,786.30 L919.89,786.70 L920.51,787.10 L921.14,787.50 L921.79,787.90 L922.47,788.30 L923.20,788.70 L923.97,789.10 L924.80,789.50 L925.70,789.90 L926.68,790.30 L927.80,790.70 L929.30,791.10 L931.05,791.50 L932.87,791.90 L934.56,792.30 L935.93,792.70 L936.98,793.10 L938.02,793.50 L938.99,793.90 L939.81,794.30 L940.41,794.70 L940.69,795.10 L940.63,795.50 L940.35,795.90 L939.92,796.30 L939.40,796.70 L938.84,797.10 L938.32,797.50 L937.83,797.90 L937.29,798.30 L936.73,798.70 L936.17,799.10 L935.65,799.50 L935.20,799.90 L934.81,800.30 L934.44,800.70 L934.10,801.10 L933.78,801.50 L933.48,801.90 L933.20,802.30 L932.95,802.70 L932.74,803.10 L932.56,803.50 L932.39,803.90 L932.21,804.30 L932.01,804.70 L931.76,805.10 L931.47,805.50 L931.09,805.90 L930.40,806.30 L929.41,806.70 L928.25,807.10 L927.04,807.50 L925.91,807.90 L924.99,808.30 L924.16,808.70 L923.37,809.10 L922.61,809.50 L921.88,809.90 L921.18,810.30 L920.51,810.70 L919.86,811.10 L919.21,811.50 L918.51,811.90 L917.81,812.30 L917.14,812.70 L916.56,813.10 L916.09,813.50 L915.78,813.90 L915.65,814.30 L915.57,814.70 L915.51,815.10 L915.46,815.50 L915.42,815.90 L915.39,816.30 L915.35,816.70 L915.30,817.10 L915.24,817.50 L915.15,817.90 L915.01,818.30 L914.84,818.70 L914.65,819.10 L914.47,819.50 L914.32,819.90 L914.22,820.30 L914.21,820.70 L914.32,821.10 L914.55,821.50 L914.88,821.90 L915.28,822.30 L915.70,822.70 L916.12,823.10 L916.52,823.50 L916.85,823.90 L917.08,824.30 L917.19,824.70 L917.14,825.10 L916.89,825.50 L916.50,825.90 L916.02,826.30 L915.51,826.70 L915.02,827.10 L914.60,827.50 L914.31,827.90 L914.20,828.30 L914.20,828.70 L914.20,829.10 L914.21,829.50 L914.22,829.90 L914.22,830.30 L914.23,830.70 L914.24,831.10 L914.25,831.50 L914.26,831.90 L914.28,832.30 L914.29,832.70 L914.30,833.10 L914.31,833.50 L914.33,833.90 L914.34,834.30 L914.35,834.70 L914.36,835.10 L914.37,835.50 L914.38,835.90 L914.39,836.30 L914.39,836.70 L914.40,837.10 L914.40,837.50 L914.40,837.90 L914.40,838.30 L914.39,838.70 L914.37,839.10 L914.36,839.50 L914.34,839.90 L914.31,840.30 L914.29,840.70 L914.26,841.10 L914.23,841.50 L914.20,841.90 L914.17,842.30 L914.13,842.70 L914.10,843.10 L914.07,843.50 L914.04,843.90 L914.01,844.30 L913.99,844.70 L913.96,845.10 L913.94,845.50 L913.93,845.90 L913.91,846.30 L913.90,846.70 L913.90,847.10 L913.90,847.50 L913.91,847.90 L913.93,848.30 L913.95,848.70 L913.97,849.10 L914.00,849.50 L914.03,849.90 L914.06,850.30 L914.09,850.70 L914.12,851.10 L914.15,851.50 L914.17,851.90 L914.18,852.30 L914.20,852.70 L914.20,853.10 L914.20,853.50 L914.19,853.90 L914.18,854.30 L914.16,854.70 L914.14,855.10 L914.11,855.50 L914.08,855.90 L914.05,856.30 L914.01,856.70 L913.96,857.10 L913.92,857.50 L913.87,857.90 L913.82,858.30 L913.76,858.70 L913.70,859.10 L913.70,859.10 L913.70,859.10 L913.70,859.10 L913.64,858.70 L913.58,858.30 L913.53,857.90 L913.48,857.50 L913.44,857.10 L913.39,856.70 L913.35,856.30 L913.32,855.90 L913.29,855.50 L913.26,855.10 L913.24,854.70 L913.22,854.30 L913.21,853.90 L913.20,853.50 L913.20,853.10 L913.20,852.70 L913.22,852.30 L913.23,851.90 L913.25,851.50 L913.28,851.10 L913.31,850.70 L913.34,850.30 L913.37,849.90 L913.40,849.50 L913.43,849.10 L913.45,848.70 L913.47,848.30 L913.49,847.90 L913.50,847.50 L913.50,847.10 L913.50,846.70 L913.49,846.30 L913.47,845.90 L913.46,845.50 L913.44,845.10 L913.41,844.70 L913.39,844.30 L913.36,843.90 L913.33,843.50 L913.30,843.10 L913.27,842.70 L913.23,842.30 L913.20,841.90 L913.17,841.50 L913.14,841.10 L913.11,840.70 L913.09,840.30 L913.06,839.90 L913.04,839.50 L913.03,839.10 L913.01,838.70 L913.00,838.30 L913.00,837.90 L913.00,837.50 L913.00,837.10 L913.01,836.70 L913.01,836.30 L913.02,835.90 L913.03,835.50 L913.04,835.10 L913.05,834.70 L913.06,834.30 L913.07,833.90 L913.09,833.50 L913.10,833.10 L913.11,832.70 L913.12,832.30 L913.14,831.90 L913.15,831.50 L913.16,831.10 L913.17,830.70 L913.18,830.30 L913.18,829.90 L913.19,829.50 L913.20,829.10 L913.20,828.70 L913.20,828.30 L913.09,827.90 L912.80,827.50 L912.38,827.10 L911.89,826.70 L911.38,826.30 L910.90,825.90 L910.51,825.50 L910.26,825.10 L910.21,824.70 L910.32,824.30 L910.55,823.90 L910.88,823.50 L911.28,823.10 L911.70,822.70 L912.12,822.30 L912.52,821.90 L912.85,821.50 L913.08,821.10 L913.19,820.70 L913.18,820.30 L913.08,819.90 L912.93,819.50 L912.75,819.10 L912.56,818.70 L912.39,818.30 L912.25,817.90 L912.16,817.50 L912.10,817.10 L912.05,816.70 L912.01,816.30 L911.98,815.90 L911.94,815.50 L911.89,815.10 L911.83,814.70 L911.75,814.30 L911.62,813.90 L911.31,813.50 L910.84,813.10 L910.26,812.70 L909.59,812.30 L908.89,811.90 L908.19,811.50 L907.54,811.10 L906.89,810.70 L906.22,810.30 L905.52,809.90 L904.79,809.50 L904.03,809.10 L903.24,808.70 L902.41,808.30 L901.49,807.90 L900.36,807.50 L899.15,807.10 L897.99,806.70 L897.00,806.30 L896.31,805.90 L895.93,805.50 L895.64,805.10 L895.39,804.70 L895.19,804.30 L895.01,803.90 L894.84,803.50 L894.66,803.10 L894.45,802.70 L894.20,802.30 L893.92,801.90 L893.62,801.50 L893.30,801.10 L892.96,800.70 L892.59,800.30 L892.20,799.90 L891.75,799.50 L891.23,799.10 L890.67,798.70 L890.11,798.30 L889.57,797.90 L889.08,797.50 L888.56,797.10 L888.00,796.70 L887.48,796.30 L887.05,795.90 L886.77,795.50 L886.71,795.10 L886.99,794.70 L887.59,794.30 L888.41,793.90 L889.38,793.50 L890.42,793.10 L891.47,792.70 L892.84,792.30 L894.53,791.90 L896.35,791.50 L898.10,791.10 L899.60,790.70 L900.72,790.30 L901.70,789.90 L902.60,789.50 L903.43,789.10 L904.20,788.70 L904.93,788.30 L905.61,787.90 L906.26,787.50 L906.89,787.10 L907.51,786.70 L908.12,786.30 L908.72,785.90 L909.29,785.50 L909.84,785.10 L910.35,784.70 L910.82,784.30 L911.25,783.90 L911.62,783.50 L911.95,783.10 L912.28,782.70 L912.61,782.30 L912.90,781.90 L913.16,781.50 L913.35,781.10 L913.47,780.70 L913.50,780.30 L913.45,779.90 L913.34,779.50 L913.19,779.10 L913.01,778.70 L912.83,778.30 L912.64,777.90 L912.47,777.50 L912.33,777.10 L912.23,776.70 L912.20,776.30 L912.22,775.90 L912.27,775.50 L912.35,775.10 L912.45,774.70 L912.56,774.30 L912.67,773.90 L912.79,773.50 L912.90,773.10 L912.99,772.70 L913.06,772.30 L913.11,771.90 L913.14,771.50 L913.17,771.10 L913.20,770.70 L913.23,770.30 L913.25,769.90 L913.27,769.50 L913.29,769.10 L913.31,768.70 L913.33,768.30 L913.35,767.90 L913.37,767.50 L913.38,767.10 L913.41,766.70 L913.43,766.30 L913.45,765.90 L913.47,765.50 L913.49,765.10 L913.51,764.70 L913.52,764.30 L913.54,763.90 L913.56,763.50 L913.58,763.10 L913.60,762.70 L913.62,762.30 L913.63,761.90 L913.65,761.50 L913.67,761.10 L913.68,760.70 L913.70,760.30 Z" fill="#009291" stroke="#000" stroke-width="3.0" stroke-linejoin="round"/>
<line x1="891.92" y1="799.30" x2="935.48" y2="799.30" stroke="#000" stroke-width="3.3" stroke-dasharray="9 2.5"/>
<line x1="891.45" y1="794.00" x2="935.96" y2="794.00" stroke="#000" stroke-width="3" stroke-linecap="round" stroke-dasharray="0 5.562"/>
<line x1="898.41" y1="805.30" x2="929.00" y2="805.30" stroke="#000" stroke-width="3" stroke-linecap="round" stroke-dasharray="0 6.114"/>
<path d="M1000.00,790.80 L1000.00,791.20 L1000.00,791.60 L1000.01,792.00 L1000.01,792.40 L1000.02,792.80 L1000.02,793.20 L1000.03,793.60 L1000.04,794.00 L1000.05,794.40 L1000.07,794.80 L1000.08,795.20 L1000.10,795.60 L1000.19,796.00 L1000.41,796.40 L1000.72,796.80 L1001.10,797.20 L1001.52,797.60 L1001.94,798.00 L1002.33,798.40 L1002.67,798.80 L1003.03,799.20 L1003.41,799.60 L1003.79,800.00 L1004.16,800.40 L1004.50,800.80 L1004.81,801.20 L1005.06,801.60 L1005.30,802.00 L1005.53,802.40 L1005.74,802.80 L1005.94,803.20 L1006.10,803.60 L1006.23,804.00 L1006.30,804.40 L1006.34,804.80 L1006.37,805.20 L1006.38,805.60 L1006.40,806.00 L1006.42,806.40 L1006.45,806.80 L1006.49,807.20 L1006.61,807.60 L1006.92,808.00 L1007.38,808.40 L1007.92,808.80 L1008.50,809.20 L1009.18,809.60 L1010.05,810.00 L1011.04,810.40 L1012.12,810.80 L1013.22,811.20 L1014.29,811.60 L1015.27,812.00 L1016.17,812.40 L1017.07,812.80 L1017.95,813.20 L1018.81,813.60 L1019.64,814.00 L1020.43,814.40 L1021.16,814.80 L1021.83,815.20 L1022.48,815.60 L1023.12,816.00 L1023.72,816.40 L1024.28,816.80 L1024.78,817.20 L1025.22,817.60 L1025.59,818.00 L1025.93,818.40 L1026.26,818.80 L1026.56,819.20 L1026.83,819.60 L1027.05,820.00 L1027.21,820.40 L1027.30,820.80 L1027.35,821.20 L1027.39,821.60 L1027.43,822.00 L1027.46,822.40 L1027.48,822.80 L1027.49,823.20 L1027.50,823.60 L1027.25,824.00 L1026.30,824.40 L1024.88,824.80 L1023.30,825.20 L1021.82,825.60 L1020.55,826.00 L1019.22,826.40 L1017.87,826.80 L1016.55,827.20 L1015.32,827.60 L1014.24,828.00 L1013.28,828.40 L1012.30,828.80 L1011.36,829.20 L1010.54,829.60 L1009.91,830.00 L1009.54,830.40 L1009.41,830.80 L1009.30,831.20 L1009.20,831.60 L1009.12,832.00 L1009.06,832.40 L1009.02,832.80 L1009.00,833.20 L1009.00,833.60 L1009.01,834.00 L1009.04,834.40 L1009.07,834.80 L1009.11,835.20 L1009.16,835.60 L1009.21,836.00 L1009.26,836.40 L1009.31,836.80 L1009.36,837.20 L1009.41,837.60 L1009.44,838.00 L1009.47,838.40 L1009.49,838.80 L1009.50,839.20 L1009.49,839.60 L1009.45,840.00 L1009.40,840.40 L1009.33,840.80 L1009.24,841.20 L1009.14,841.60 L1009.03,842.00 L1008.89,842.40 L1008.65,842.80 L1008.35,843.20 L1007.98,843.60 L1007.58,844.00 L1007.15,844.40 L1006.71,844.80 L1006.27,845.20 L1005.76,845.60 L1005.17,846.00 L1004.56,846.40 L1003.94,846.80 L1003.36,847.20 L1002.83,847.60 L1002.40,848.00 L1001.97,848.40 L1001.54,848.80 L1001.13,849.20 L1000.76,849.60 L1000.47,850.00 L1000.27,850.40 L1000.20,850.80 L1000.22,851.20 L1000.26,851.60 L1000.33,852.00 L1000.41,852.40 L1000.51,852.80 L1000.62,853.20 L1000.73,853.60 L1000.84,854.00 L1000.93,854.40 L1001.02,854.80 L1001.11,855.20 L1001.22,855.60 L1001.33,856.00 L1001.43,856.40 L1001.54,856.80 L1001.63,857.20 L1001.71,857.60 L1001.77,858.00 L1001.80,858.40 L1001.79,858.80 L1001.73,859.20 L1001.61,859.60 L1001.46,860.00 L1001.29,860.40 L1001.10,860.80 L1000.91,861.20 L1000.74,861.60 L1000.60,862.00 L1000.50,862.40 L1000.43,862.80 L1000.35,863.20 L1000.28,863.60 L1000.21,864.00 L1000.15,864.40 L1000.10,864.80 L1000.06,865.20 L1000.02,865.60 L1000.00,866.00 L1000.00,866.40 L1000.00,866.80 L1000.00,867.20 L1000.00,867.60 L1000.00,868.00 L1000.00,868.40 L1000.00,868.80 L1000.00,869.20 L1000.00,869.60 L1000.00,869.70 L1000.00,869.70 L1000.00,869.60 L1000.00,869.20 L1000.00,868.80 L1000.00,868.40 L1000.00,868.00 L1000.00,867.60 L1000.00,867.20 L1000.00,866.80 L1000.00,866.40 L1000.00,866.00 L999.98,865.60 L999.94,865.20 L999.90,864.80 L999.85,864.40 L999.79,864.00 L999.72,863.60 L999.65,863.20 L999.57,862.80 L999.50,862.40 L999.40,862.00 L999.26,861.60 L999.09,861.20 L998.90,860.80 L998.71,860.40 L998.54,860.00 L998.39,859.60 L998.27,859.20 L998.21,858.80 L998.20,858.40 L998.23,858.00 L998.29,857.60 L998.37,857.20 L998.46,856.80 L998.57,856.40 L998.67,856.00 L998.78,855.60 L998.89,855.20 L998.98,854.80 L999.07,854.40 L999.16,854.00 L999.27,853.60 L999.38,853.20 L999.49,852.80 L999.59,852.40 L999.67,852.00 L999.74,851.60 L999.78,851.20 L999.80,850.80 L999.73,850.40 L999.53,850.00 L999.24,849.60 L998.87,849.20 L998.46,848.80 L998.03,848.40 L997.60,848.00 L997.17,847.60 L996.64,847.20 L996.06,846.80 L995.44,846.40 L994.83,846.00 L994.24,845.60 L993.73,845.20 L993.29,844.80 L992.85,844.40 L992.42,844.00 L992.02,843.60 L991.65,843.20 L991.35,842.80 L991.11,842.40 L990.97,842.00 L990.86,841.60 L990.76,841.20 L990.67,840.80 L990.60,840.40 L990.55,840.00 L990.51,839.60 L990.50,839.20 L990.51,838.80 L990.53,838.40 L990.56,838.00 L990.59,837.60 L990.64,837.20 L990.69,836.80 L990.74,836.40 L990.79,836.00 L990.84,835.60 L990.89,835.20 L990.93,834.80 L990.96,834.40 L990.99,834.00 L991.00,833.60 L991.00,833.20 L990.98,832.80 L990.94,832.40 L990.88,832.00 L990.80,831.60 L990.70,831.20 L990.59,830.80 L990.46,830.40 L990.09,830.00 L989.46,829.60 L988.64,829.20 L987.70,828.80 L986.72,828.40 L985.76,828.00 L984.68,827.60 L983.45,827.20 L982.13,826.80 L980.78,826.40 L979.45,826.00 L978.18,825.60 L976.70,825.20 L975.12,824.80 L973.70,824.40 L972.75,824.00 L972.50,823.60 L972.51,823.20 L972.52,822.80 L972.54,822.40 L972.57,822.00 L972.61,821.60 L972.65,821.20 L972.70,820.80 L972.79,820.40 L972.95,820.00 L973.17,819.60 L973.44,819.20 L973.74,818.80 L974.07,818.40 L974.41,818.00 L974.78,817.60 L975.22,817.20 L975.72,816.80 L976.28,816.40 L976.88,816.00 L977.52,815.60 L978.17,815.20 L978.84,814.80 L979.57,814.40 L980.36,814.00 L981.19,813.60 L982.05,813.20 L982.93,812.80 L983.83,812.40 L984.73,812.00 L985.71,811.60 L986.78,811.20 L987.88,810.80 L988.96,810.40 L989.95,810.00 L990.82,809.60 L991.50,809.20 L992.08,808.80 L992.62,808.40 L993.08,808.00 L993.39,807.60 L993.51,807.20 L993.55,806.80 L993.58,806.40 L993.60,806.00 L993.62,805.60 L993.63,805.20 L993.66,804.80 L993.70,804.40 L993.77,804.00 L993.90,803.60 L994.06,803.20 L994.26,802.80 L994.47,802.40 L994.70,802.00 L994.94,801.60 L995.19,801.20 L995.50,800.80 L995.84,800.40 L996.21,800.00 L996.59,799.60 L996.97,799.20 L997.33,798.80 L997.67,798.40 L998.06,798.00 L998.48,797.60 L998.90,797.20 L999.28,796.80 L999.59,796.40 L999.81,796.00 L999.90,795.60 L999.92,795.20 L999.93,794.80 L999.95,794.40 L999.96,794.00 L999.97,793.60 L999.98,793.20 L999.98,792.80 L999.99,792.40 L999.99,792.00 L1000.00,791.60 L1000.00,791.20 L1000.00,790.80 Z" fill="#bbbbbb" stroke="#000" stroke-width="3.0" stroke-linejoin="round"/>
<line x1="974.50" y1="824.20" x2="1025.50" y2="824.20" stroke="#000" stroke-width="3.3" stroke-dasharray="9 2.5"/>
<line x1="978.93" y1="816.50" x2="1021.08" y2="816.50" stroke="#000" stroke-width="3" stroke-linecap="round" stroke-dasharray="0 5.267"/>
<line x1="993.33" y1="832.40" x2="1006.68" y2="832.40" stroke="#000" stroke-width="3" stroke-linecap="round" stroke-dasharray="0 6.672"/>
<rect x="1043.7" y="728.7" width="15.7" height="15.7" fill="#f29a45"/>
<rect x="1043.7" y="755.5" width="15.7" height="15.7" fill="#069e91"/>
<rect x="1043.7" y="779" width="15.7" height="15.7" fill="#b1b2b5"/>
<text transform="translate(1064.95,745.30) scale(1,1.0)" font-size="24.90" fill="#000" stroke="#000" stroke-width="0.3">Missense</text>
<text transform="translate(1067.05,769.20) scale(1,1.0)" font-size="24.80" fill="#000" stroke="#000" stroke-width="0.3">Nonsense</text>
<text transform="translate(1066.88,795.00) scale(1,1.0)" font-size="24.80" fill="#000" stroke="#000" stroke-width="0.3">Silent</text>
</svg>
</body></html>
